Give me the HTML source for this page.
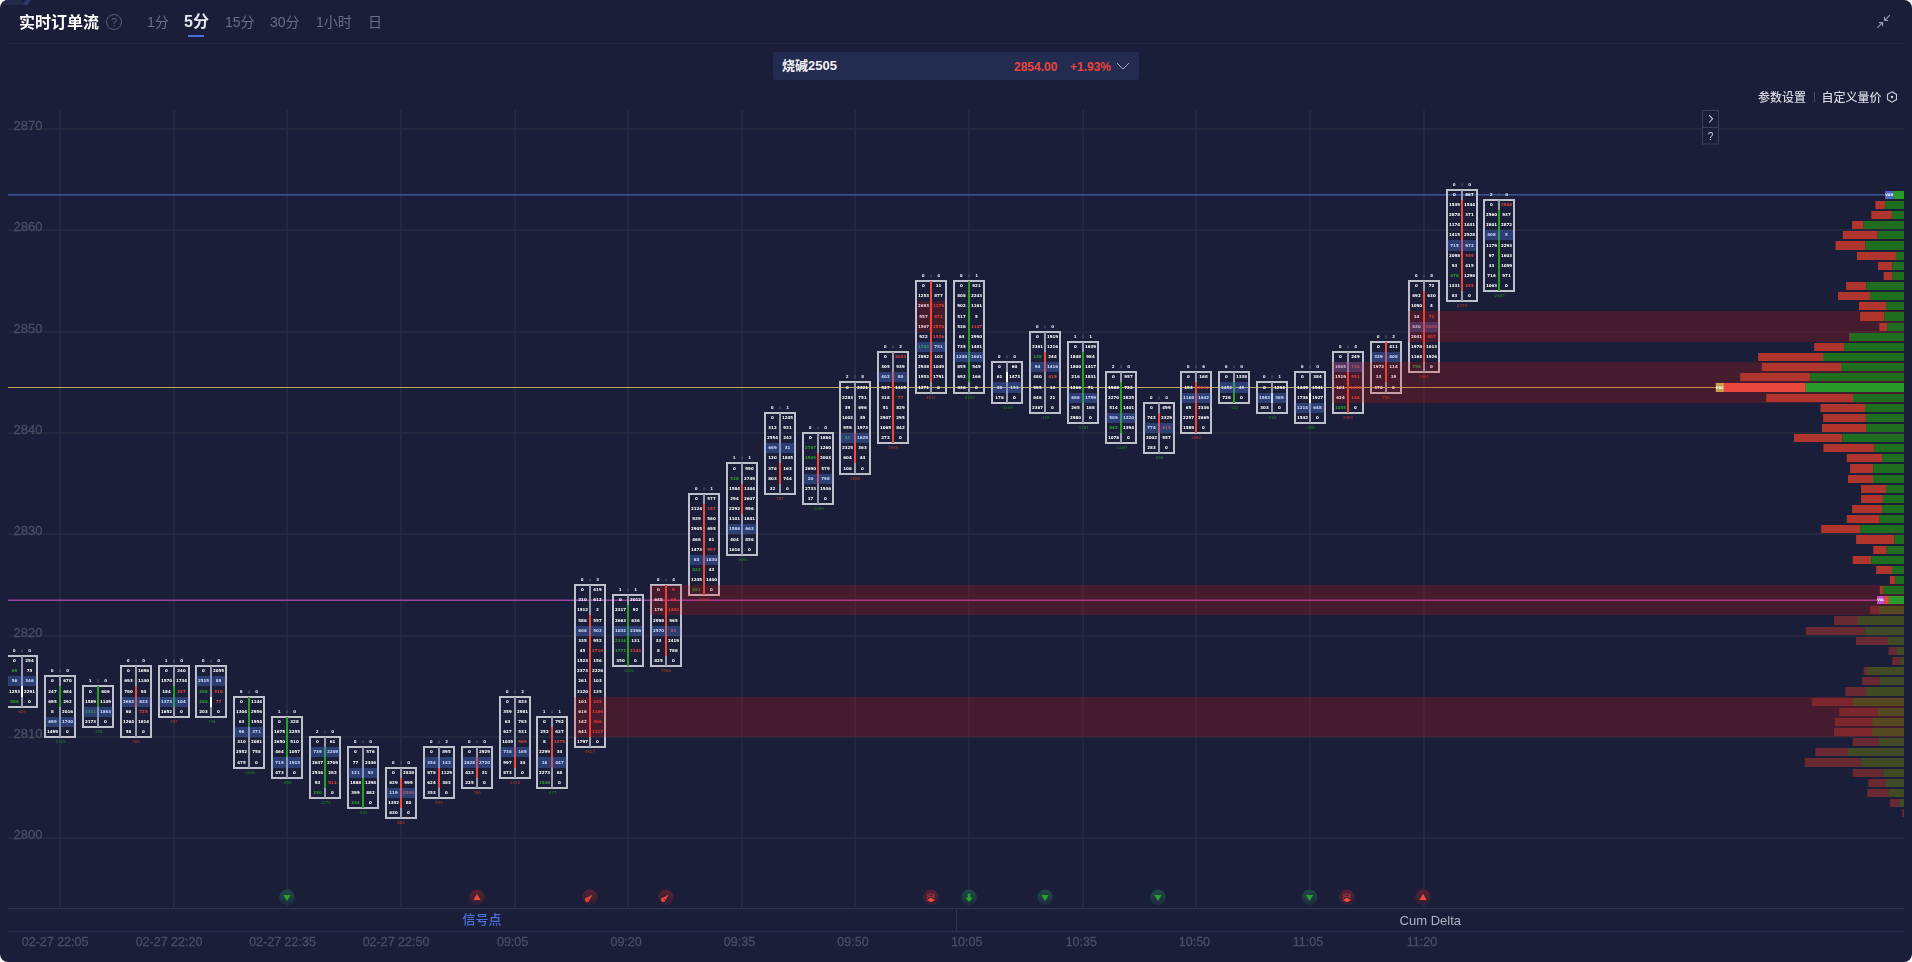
<!DOCTYPE html>
<html><head><meta charset="utf-8"><title>实时订单流</title>
<style>
html,body{margin:0;padding:0;background:#ffffff;}
#app{position:relative;width:1912px;height:962px;background:#1b1e38;border-radius:8px;overflow:hidden;font-family:"Liberation Sans","Noto Sans CJK SC",sans-serif;}
.abs{position:absolute;white-space:nowrap;}
.title{left:19px;top:11px;font-size:16px;font-weight:bold;color:#ffffff;line-height:24px;}
.help{left:106px;top:14px;width:14px;height:14px;border:1px solid #5c5f76;border-radius:50%;color:#5c5f76;font-size:11px;line-height:14px;text-align:center;}
.tab{top:12px;font-size:14px;color:#6b6e86;line-height:20px;}
.tab.on{font-size:16px;font-weight:bold;color:#e6e7ee;top:10px;line-height:24px;}
.uline{left:188px;top:35px;width:16px;height:2px;background:#4a70d8;}
.sep{left:8px;top:43px;width:1896px;height:1px;background:#262a45;}
.sym{left:773px;top:52px;width:366px;height:28px;background:#242b50;border-radius:2px;}
.symname{left:782px;top:56px;font-size:13px;font-weight:bold;color:#f2f2f6;line-height:20px;}
.px{top:57px;font-size:12px;font-weight:bold;color:#e8453c;line-height:20px;}
.cfg{top:90px;font-size:12px;font-weight:500;color:#d4d5de;line-height:17px;}
</style></head>
<body>
<div id="app">
<div class="abs" style="left:2px;top:0;width:20px;height:5px;background:#222a48;"></div>
<div class="abs" style="left:22px;top:0;width:9px;height:5px;background:#2a3a68;clip-path:polygon(40% 0,100% 0,60% 100%,0 100%);"></div>
<svg width="1912" height="962" viewBox="0 0 1912 962" style="position:absolute;left:0;top:0;will-change:transform">
<defs><clipPath id="cp"><rect x="8" y="100" width="1896" height="810"/></clipPath><linearGradient id="gg" x1="0" y1="0" x2="0" y2="1"><stop offset="0" stop-color="#1f4a48"/><stop offset="1" stop-color="#1c2a3c"/></linearGradient><linearGradient id="rg" x1="0" y1="0" x2="0" y2="1"><stop offset="0" stop-color="#5a2233"/><stop offset="1" stop-color="#2c1f36"/></linearGradient></defs>
<g clip-path="url(#cp)">
<rect x="8" y="128.50" width="1896" height="1" fill="#2f3246"/>
<rect x="8" y="229.50" width="1896" height="1" fill="#2f3246"/>
<rect x="8" y="331.50" width="1896" height="1" fill="#2f3246"/>
<rect x="8" y="432.50" width="1896" height="1" fill="#2f3246"/>
<rect x="8" y="533.50" width="1896" height="1" fill="#2f3246"/>
<rect x="8" y="635.50" width="1896" height="1" fill="#2f3246"/>
<rect x="8" y="736.50" width="1896" height="1" fill="#2f3246"/>
<rect x="8" y="837.50" width="1896" height="1" fill="#2f3246"/>
<rect x="59.50" y="110" width="1" height="797" fill="#2f3246"/>
<rect x="173.50" y="110" width="1" height="797" fill="#2f3246"/>
<rect x="286.50" y="110" width="1" height="797" fill="#2f3246"/>
<rect x="400.50" y="110" width="1" height="797" fill="#2f3246"/>
<rect x="514.50" y="110" width="1" height="797" fill="#2f3246"/>
<rect x="627.50" y="110" width="1" height="797" fill="#2f3246"/>
<rect x="741.50" y="110" width="1" height="797" fill="#2f3246"/>
<rect x="854.50" y="110" width="1" height="797" fill="#2f3246"/>
<rect x="968.50" y="110" width="1" height="797" fill="#2f3246"/>
<rect x="1082.50" y="110" width="1" height="797" fill="#2f3246"/>
<rect x="1195.50" y="110" width="1" height="797" fill="#2f3246"/>
<rect x="1309.50" y="110" width="1" height="797" fill="#2f3246"/>
<rect x="1423.50" y="110" width="1" height="797" fill="#2f3246"/>
<text x="13.5" y="130.30" font-family="Liberation Sans, sans-serif" font-size="13" fill="#4a4d64" stroke="#4a4d64" stroke-width="0.3">2870</text>
<text x="13.5" y="231.30" font-family="Liberation Sans, sans-serif" font-size="13" fill="#4a4d64" stroke="#4a4d64" stroke-width="0.3">2860</text>
<text x="13.5" y="333.30" font-family="Liberation Sans, sans-serif" font-size="13" fill="#4a4d64" stroke="#4a4d64" stroke-width="0.3">2850</text>
<text x="13.5" y="434.30" font-family="Liberation Sans, sans-serif" font-size="13" fill="#4a4d64" stroke="#4a4d64" stroke-width="0.3">2840</text>
<text x="13.5" y="535.30" font-family="Liberation Sans, sans-serif" font-size="13" fill="#4a4d64" stroke="#4a4d64" stroke-width="0.3">2830</text>
<text x="13.5" y="637.30" font-family="Liberation Sans, sans-serif" font-size="13" fill="#4a4d64" stroke="#4a4d64" stroke-width="0.3">2820</text>
<text x="13.5" y="738.30" font-family="Liberation Sans, sans-serif" font-size="13" fill="#4a4d64" stroke="#4a4d64" stroke-width="0.3">2810</text>
<text x="13.5" y="839.30" font-family="Liberation Sans, sans-serif" font-size="13" fill="#4a4d64" stroke="#4a4d64" stroke-width="0.3">2800</text>
<rect x="8" y="194.05" width="1877.4" height="1.5" fill="#3d5599"/>
<rect x="8" y="387" width="1708" height="1" fill="#c2a55a"/>
<rect x="8" y="599.5" width="1869" height="1.5" fill="#9a42a0"/>
<rect x="6.00" y="655.00" width="32" height="2" fill="#bec0cc"/>
<rect x="6.00" y="706.00" width="32" height="2" fill="#bec0cc"/>
<rect x="36.00" y="655.00" width="2" height="53.00" fill="#bec0cc"/>
<rect x="21.00" y="656.00" width="2" height="51.00" fill="#9a9cac"/>
<rect x="21.00" y="686.00" width="2" height="11.00" fill="#ffffff"/>
<text x="14.50" y="662.05" text-anchor="middle" font-family="DejaVu Sans, sans-serif" font-weight="bold" font-size="4.0" fill="#ffffff">0</text>
<text x="29.50" y="662.05" text-anchor="middle" font-family="DejaVu Sans, sans-serif" font-weight="bold" font-size="4.0" fill="#ffffff">254</text>
<text x="14.50" y="672.05" text-anchor="middle" font-family="DejaVu Sans, sans-serif" font-weight="bold" font-size="4.0" fill="#2ea02e">69</text>
<text x="29.50" y="672.05" text-anchor="middle" font-family="DejaVu Sans, sans-serif" font-weight="bold" font-size="4.0" fill="#ffffff">75</text>
<text x="14.50" y="682.05" text-anchor="middle" font-family="DejaVu Sans, sans-serif" font-weight="bold" font-size="4.0" fill="#ffffff">56</text>
<text x="29.50" y="682.05" text-anchor="middle" font-family="DejaVu Sans, sans-serif" font-weight="bold" font-size="4.0" fill="#ffffff">346</text>
<text x="14.50" y="692.55" text-anchor="middle" font-family="DejaVu Sans, sans-serif" font-weight="bold" font-size="4.0" fill="#ffffff">1253</text>
<text x="29.50" y="692.55" text-anchor="middle" font-family="DejaVu Sans, sans-serif" font-weight="bold" font-size="4.0" fill="#ffffff">2291</text>
<text x="14.50" y="703.05" text-anchor="middle" font-family="DejaVu Sans, sans-serif" font-weight="bold" font-size="4.0" fill="#2ea02e">506</text>
<text x="29.50" y="703.05" text-anchor="middle" font-family="DejaVu Sans, sans-serif" font-weight="bold" font-size="4.0" fill="#ffffff">0</text>
<rect x="7.50" y="676.00" width="29" height="10.00" fill="rgb(85,130,240)" fill-opacity="0.32"/>
<text x="14.20" y="652.10" text-anchor="middle" font-family="DejaVu Sans, sans-serif" font-weight="bold" font-size="4.0" fill="#e8e8ee">0</text>
<text x="22.00" y="652.10" text-anchor="middle" font-family="DejaVu Sans, sans-serif" font-weight="bold" font-size="4.0" fill="#5a5d75" stroke="#4e5168" stroke-width="0.5">:</text>
<text x="29.70" y="652.10" text-anchor="middle" font-family="DejaVu Sans, sans-serif" font-weight="bold" font-size="4.0" fill="#e8e8ee">0</text>
<text x="22.00" y="713.10" text-anchor="middle" font-family="DejaVu Sans, sans-serif" font-size="4.0" fill="#b8382f">629</text>
<rect x="44.00" y="675.00" width="32" height="2" fill="#bec0cc"/>
<rect x="44.00" y="736.00" width="32" height="2" fill="#bec0cc"/>
<rect x="44.00" y="675.00" width="2" height="63.00" fill="#bec0cc"/>
<rect x="74.00" y="675.00" width="2" height="63.00" fill="#bec0cc"/>
<rect x="59.00" y="676.00" width="2" height="61.00" fill="#9a9cac"/>
<rect x="59.00" y="686.00" width="2" height="21.00" fill="#28a028"/>
<text x="52.50" y="682.05" text-anchor="middle" font-family="DejaVu Sans, sans-serif" font-weight="bold" font-size="4.0" fill="#ffffff">0</text>
<text x="67.50" y="682.05" text-anchor="middle" font-family="DejaVu Sans, sans-serif" font-weight="bold" font-size="4.0" fill="#ffffff">670</text>
<text x="52.50" y="692.55" text-anchor="middle" font-family="DejaVu Sans, sans-serif" font-weight="bold" font-size="4.0" fill="#ffffff">247</text>
<text x="67.50" y="692.55" text-anchor="middle" font-family="DejaVu Sans, sans-serif" font-weight="bold" font-size="4.0" fill="#ffffff">684</text>
<text x="52.50" y="703.05" text-anchor="middle" font-family="DejaVu Sans, sans-serif" font-weight="bold" font-size="4.0" fill="#ffffff">695</text>
<text x="67.50" y="703.05" text-anchor="middle" font-family="DejaVu Sans, sans-serif" font-weight="bold" font-size="4.0" fill="#ffffff">292</text>
<text x="52.50" y="713.05" text-anchor="middle" font-family="DejaVu Sans, sans-serif" font-weight="bold" font-size="4.0" fill="#ffffff">8</text>
<text x="67.50" y="713.05" text-anchor="middle" font-family="DejaVu Sans, sans-serif" font-weight="bold" font-size="4.0" fill="#ffffff">2016</text>
<text x="52.50" y="723.05" text-anchor="middle" font-family="DejaVu Sans, sans-serif" font-weight="bold" font-size="4.0" fill="#ffffff">699</text>
<text x="67.50" y="723.05" text-anchor="middle" font-family="DejaVu Sans, sans-serif" font-weight="bold" font-size="4.0" fill="#ffffff">1740</text>
<text x="52.50" y="733.05" text-anchor="middle" font-family="DejaVu Sans, sans-serif" font-weight="bold" font-size="4.0" fill="#ffffff">1499</text>
<text x="67.50" y="733.05" text-anchor="middle" font-family="DejaVu Sans, sans-serif" font-weight="bold" font-size="4.0" fill="#ffffff">0</text>
<rect x="45.50" y="717.00" width="29" height="10.00" fill="rgb(85,130,240)" fill-opacity="0.32"/>
<text x="52.20" y="672.10" text-anchor="middle" font-family="DejaVu Sans, sans-serif" font-weight="bold" font-size="4.0" fill="#e8e8ee">0</text>
<text x="60.00" y="672.10" text-anchor="middle" font-family="DejaVu Sans, sans-serif" font-weight="bold" font-size="4.0" fill="#5a5d75" stroke="#4e5168" stroke-width="0.5">:</text>
<text x="67.70" y="672.10" text-anchor="middle" font-family="DejaVu Sans, sans-serif" font-weight="bold" font-size="4.0" fill="#e8e8ee">0</text>
<text x="60.00" y="743.10" text-anchor="middle" font-family="DejaVu Sans, sans-serif" font-size="4.0" fill="#22822a">-2129</text>
<rect x="82.00" y="685.00" width="32" height="2" fill="#bec0cc"/>
<rect x="82.00" y="726.00" width="32" height="2" fill="#bec0cc"/>
<rect x="82.00" y="685.00" width="2" height="43.00" fill="#bec0cc"/>
<rect x="112.00" y="685.00" width="2" height="43.00" fill="#bec0cc"/>
<rect x="97.00" y="686.00" width="2" height="41.00" fill="#9a9cac"/>
<rect x="97.00" y="686.00" width="2" height="21.00" fill="#28a028"/>
<text x="90.50" y="692.55" text-anchor="middle" font-family="DejaVu Sans, sans-serif" font-weight="bold" font-size="4.0" fill="#ffffff">0</text>
<text x="105.50" y="692.55" text-anchor="middle" font-family="DejaVu Sans, sans-serif" font-weight="bold" font-size="4.0" fill="#ffffff">606</text>
<text x="90.50" y="703.05" text-anchor="middle" font-family="DejaVu Sans, sans-serif" font-weight="bold" font-size="4.0" fill="#ffffff">1589</text>
<text x="105.50" y="703.05" text-anchor="middle" font-family="DejaVu Sans, sans-serif" font-weight="bold" font-size="4.0" fill="#ffffff">1149</text>
<text x="90.50" y="713.05" text-anchor="middle" font-family="DejaVu Sans, sans-serif" font-weight="bold" font-size="4.0" fill="#2ea02e">1311</text>
<text x="105.50" y="713.05" text-anchor="middle" font-family="DejaVu Sans, sans-serif" font-weight="bold" font-size="4.0" fill="#ffffff">1863</text>
<text x="90.50" y="723.05" text-anchor="middle" font-family="DejaVu Sans, sans-serif" font-weight="bold" font-size="4.0" fill="#ffffff">2173</text>
<text x="105.50" y="723.05" text-anchor="middle" font-family="DejaVu Sans, sans-serif" font-weight="bold" font-size="4.0" fill="#ffffff">0</text>
<rect x="83.50" y="707.00" width="29" height="10.00" fill="rgb(85,130,240)" fill-opacity="0.32"/>
<text x="90.20" y="682.10" text-anchor="middle" font-family="DejaVu Sans, sans-serif" font-weight="bold" font-size="4.0" fill="#e8e8ee">1</text>
<text x="98.00" y="682.10" text-anchor="middle" font-family="DejaVu Sans, sans-serif" font-weight="bold" font-size="4.0" fill="#5a5d75" stroke="#4e5168" stroke-width="0.5">:</text>
<text x="105.70" y="682.10" text-anchor="middle" font-family="DejaVu Sans, sans-serif" font-weight="bold" font-size="4.0" fill="#e8e8ee">0</text>
<text x="98.00" y="733.10" text-anchor="middle" font-family="DejaVu Sans, sans-serif" font-size="4.0" fill="#22822a">-188</text>
<rect x="120.00" y="665.00" width="32" height="2" fill="#bec0cc"/>
<rect x="120.00" y="736.00" width="32" height="2" fill="#bec0cc"/>
<rect x="120.00" y="665.00" width="2" height="73.00" fill="#bec0cc"/>
<rect x="150.00" y="665.00" width="2" height="73.00" fill="#bec0cc"/>
<rect x="135.00" y="666.00" width="2" height="71.00" fill="#9a9cac"/>
<rect x="135.00" y="686.00" width="2" height="21.00" fill="#ee4a3a"/>
<text x="128.50" y="672.05" text-anchor="middle" font-family="DejaVu Sans, sans-serif" font-weight="bold" font-size="4.0" fill="#ffffff">0</text>
<text x="143.50" y="672.05" text-anchor="middle" font-family="DejaVu Sans, sans-serif" font-weight="bold" font-size="4.0" fill="#ffffff">1696</text>
<text x="128.50" y="682.05" text-anchor="middle" font-family="DejaVu Sans, sans-serif" font-weight="bold" font-size="4.0" fill="#ffffff">693</text>
<text x="143.50" y="682.05" text-anchor="middle" font-family="DejaVu Sans, sans-serif" font-weight="bold" font-size="4.0" fill="#ffffff">1140</text>
<text x="128.50" y="692.55" text-anchor="middle" font-family="DejaVu Sans, sans-serif" font-weight="bold" font-size="4.0" fill="#ffffff">780</text>
<text x="143.50" y="692.55" text-anchor="middle" font-family="DejaVu Sans, sans-serif" font-weight="bold" font-size="4.0" fill="#ffffff">94</text>
<text x="128.50" y="703.05" text-anchor="middle" font-family="DejaVu Sans, sans-serif" font-weight="bold" font-size="4.0" fill="#ffffff">2683</text>
<text x="143.50" y="703.05" text-anchor="middle" font-family="DejaVu Sans, sans-serif" font-weight="bold" font-size="4.0" fill="#ffffff">833</text>
<text x="128.50" y="713.05" text-anchor="middle" font-family="DejaVu Sans, sans-serif" font-weight="bold" font-size="4.0" fill="#ffffff">60</text>
<text x="143.50" y="713.05" text-anchor="middle" font-family="DejaVu Sans, sans-serif" font-weight="bold" font-size="4.0" fill="#e0453a">725</text>
<text x="128.50" y="723.05" text-anchor="middle" font-family="DejaVu Sans, sans-serif" font-weight="bold" font-size="4.0" fill="#ffffff">1264</text>
<text x="143.50" y="723.05" text-anchor="middle" font-family="DejaVu Sans, sans-serif" font-weight="bold" font-size="4.0" fill="#ffffff">1814</text>
<text x="128.50" y="733.05" text-anchor="middle" font-family="DejaVu Sans, sans-serif" font-weight="bold" font-size="4.0" fill="#ffffff">58</text>
<text x="143.50" y="733.05" text-anchor="middle" font-family="DejaVu Sans, sans-serif" font-weight="bold" font-size="4.0" fill="#ffffff">0</text>
<rect x="121.50" y="697.00" width="29" height="10.00" fill="rgb(85,130,240)" fill-opacity="0.32"/>
<text x="128.20" y="662.10" text-anchor="middle" font-family="DejaVu Sans, sans-serif" font-weight="bold" font-size="4.0" fill="#e8e8ee">0</text>
<text x="136.00" y="662.10" text-anchor="middle" font-family="DejaVu Sans, sans-serif" font-weight="bold" font-size="4.0" fill="#5a5d75" stroke="#4e5168" stroke-width="0.5">:</text>
<text x="143.70" y="662.10" text-anchor="middle" font-family="DejaVu Sans, sans-serif" font-weight="bold" font-size="4.0" fill="#e8e8ee">0</text>
<text x="136.00" y="743.10" text-anchor="middle" font-family="DejaVu Sans, sans-serif" font-size="4.0" fill="#b8382f">789</text>
<rect x="158.00" y="665.00" width="32" height="2" fill="#bec0cc"/>
<rect x="158.00" y="716.00" width="32" height="2" fill="#bec0cc"/>
<rect x="158.00" y="665.00" width="2" height="53.00" fill="#bec0cc"/>
<rect x="188.00" y="665.00" width="2" height="53.00" fill="#bec0cc"/>
<rect x="173.00" y="666.00" width="2" height="51.00" fill="#9a9cac"/>
<rect x="173.00" y="686.00" width="2" height="21.00" fill="#28a028"/>
<text x="166.50" y="672.05" text-anchor="middle" font-family="DejaVu Sans, sans-serif" font-weight="bold" font-size="4.0" fill="#ffffff">0</text>
<text x="181.50" y="672.05" text-anchor="middle" font-family="DejaVu Sans, sans-serif" font-weight="bold" font-size="4.0" fill="#ffffff">240</text>
<text x="166.50" y="682.05" text-anchor="middle" font-family="DejaVu Sans, sans-serif" font-weight="bold" font-size="4.0" fill="#ffffff">1570</text>
<text x="181.50" y="682.05" text-anchor="middle" font-family="DejaVu Sans, sans-serif" font-weight="bold" font-size="4.0" fill="#ffffff">1734</text>
<text x="166.50" y="692.55" text-anchor="middle" font-family="DejaVu Sans, sans-serif" font-weight="bold" font-size="4.0" fill="#ffffff">184</text>
<text x="181.50" y="692.55" text-anchor="middle" font-family="DejaVu Sans, sans-serif" font-weight="bold" font-size="4.0" fill="#e0453a">337</text>
<text x="166.50" y="703.05" text-anchor="middle" font-family="DejaVu Sans, sans-serif" font-weight="bold" font-size="4.0" fill="#ffffff">1373</text>
<text x="181.50" y="703.05" text-anchor="middle" font-family="DejaVu Sans, sans-serif" font-weight="bold" font-size="4.0" fill="#ffffff">104</text>
<text x="166.50" y="713.05" text-anchor="middle" font-family="DejaVu Sans, sans-serif" font-weight="bold" font-size="4.0" fill="#ffffff">1652</text>
<text x="181.50" y="713.05" text-anchor="middle" font-family="DejaVu Sans, sans-serif" font-weight="bold" font-size="4.0" fill="#ffffff">0</text>
<rect x="159.50" y="697.00" width="29" height="10.00" fill="rgb(85,130,240)" fill-opacity="0.32"/>
<text x="166.20" y="662.10" text-anchor="middle" font-family="DejaVu Sans, sans-serif" font-weight="bold" font-size="4.0" fill="#e8e8ee">1</text>
<text x="174.00" y="662.10" text-anchor="middle" font-family="DejaVu Sans, sans-serif" font-weight="bold" font-size="4.0" fill="#5a5d75" stroke="#4e5168" stroke-width="0.5">:</text>
<text x="181.70" y="662.10" text-anchor="middle" font-family="DejaVu Sans, sans-serif" font-weight="bold" font-size="4.0" fill="#e8e8ee">0</text>
<text x="174.00" y="723.10" text-anchor="middle" font-family="DejaVu Sans, sans-serif" font-size="4.0" fill="#b8382f">497</text>
<rect x="195.00" y="665.00" width="32" height="2" fill="#bec0cc"/>
<rect x="195.00" y="716.00" width="32" height="2" fill="#bec0cc"/>
<rect x="195.00" y="665.00" width="2" height="53.00" fill="#bec0cc"/>
<rect x="225.00" y="665.00" width="2" height="53.00" fill="#bec0cc"/>
<rect x="210.00" y="666.00" width="2" height="51.00" fill="#9a9cac"/>
<rect x="210.00" y="697.00" width="2" height="10.00" fill="#ffffff"/>
<text x="203.50" y="672.05" text-anchor="middle" font-family="DejaVu Sans, sans-serif" font-weight="bold" font-size="4.0" fill="#ffffff">0</text>
<text x="218.50" y="672.05" text-anchor="middle" font-family="DejaVu Sans, sans-serif" font-weight="bold" font-size="4.0" fill="#ffffff">2055</text>
<text x="203.50" y="682.05" text-anchor="middle" font-family="DejaVu Sans, sans-serif" font-weight="bold" font-size="4.0" fill="#ffffff">2515</text>
<text x="218.50" y="682.05" text-anchor="middle" font-family="DejaVu Sans, sans-serif" font-weight="bold" font-size="4.0" fill="#ffffff">88</text>
<text x="203.50" y="692.55" text-anchor="middle" font-family="DejaVu Sans, sans-serif" font-weight="bold" font-size="4.0" fill="#2ea02e">206</text>
<text x="218.50" y="692.55" text-anchor="middle" font-family="DejaVu Sans, sans-serif" font-weight="bold" font-size="4.0" fill="#e0453a">510</text>
<text x="203.50" y="703.05" text-anchor="middle" font-family="DejaVu Sans, sans-serif" font-weight="bold" font-size="4.0" fill="#2ea02e">266</text>
<text x="218.50" y="703.05" text-anchor="middle" font-family="DejaVu Sans, sans-serif" font-weight="bold" font-size="4.0" fill="#e0453a">77</text>
<text x="203.50" y="713.05" text-anchor="middle" font-family="DejaVu Sans, sans-serif" font-weight="bold" font-size="4.0" fill="#ffffff">203</text>
<text x="218.50" y="713.05" text-anchor="middle" font-family="DejaVu Sans, sans-serif" font-weight="bold" font-size="4.0" fill="#ffffff">0</text>
<rect x="196.50" y="676.00" width="29" height="10.00" fill="rgb(85,130,240)" fill-opacity="0.32"/>
<text x="203.20" y="662.10" text-anchor="middle" font-family="DejaVu Sans, sans-serif" font-weight="bold" font-size="4.0" fill="#e8e8ee">0</text>
<text x="211.00" y="662.10" text-anchor="middle" font-family="DejaVu Sans, sans-serif" font-weight="bold" font-size="4.0" fill="#5a5d75" stroke="#4e5168" stroke-width="0.5">:</text>
<text x="218.70" y="662.10" text-anchor="middle" font-family="DejaVu Sans, sans-serif" font-weight="bold" font-size="4.0" fill="#e8e8ee">0</text>
<text x="211.00" y="723.10" text-anchor="middle" font-family="DejaVu Sans, sans-serif" font-size="4.0" fill="#22822a">-196</text>
<rect x="233.00" y="696.00" width="32" height="2" fill="#bec0cc"/>
<rect x="233.00" y="767.00" width="32" height="2" fill="#bec0cc"/>
<rect x="233.00" y="696.00" width="2" height="73.00" fill="#bec0cc"/>
<rect x="263.00" y="696.00" width="2" height="73.00" fill="#bec0cc"/>
<rect x="248.00" y="697.00" width="2" height="71.00" fill="#9a9cac"/>
<rect x="248.00" y="697.00" width="2" height="30.00" fill="#28a028"/>
<text x="241.50" y="703.05" text-anchor="middle" font-family="DejaVu Sans, sans-serif" font-weight="bold" font-size="4.0" fill="#ffffff">0</text>
<text x="256.50" y="703.05" text-anchor="middle" font-family="DejaVu Sans, sans-serif" font-weight="bold" font-size="4.0" fill="#ffffff">1144</text>
<text x="241.50" y="713.05" text-anchor="middle" font-family="DejaVu Sans, sans-serif" font-weight="bold" font-size="4.0" fill="#ffffff">1304</text>
<text x="256.50" y="713.05" text-anchor="middle" font-family="DejaVu Sans, sans-serif" font-weight="bold" font-size="4.0" fill="#ffffff">2956</text>
<text x="241.50" y="723.05" text-anchor="middle" font-family="DejaVu Sans, sans-serif" font-weight="bold" font-size="4.0" fill="#ffffff">63</text>
<text x="256.50" y="723.05" text-anchor="middle" font-family="DejaVu Sans, sans-serif" font-weight="bold" font-size="4.0" fill="#ffffff">1954</text>
<text x="241.50" y="733.05" text-anchor="middle" font-family="DejaVu Sans, sans-serif" font-weight="bold" font-size="4.0" fill="#ffffff">96</text>
<text x="256.50" y="733.05" text-anchor="middle" font-family="DejaVu Sans, sans-serif" font-weight="bold" font-size="4.0" fill="#ffffff">371</text>
<text x="241.50" y="743.05" text-anchor="middle" font-family="DejaVu Sans, sans-serif" font-weight="bold" font-size="4.0" fill="#ffffff">310</text>
<text x="256.50" y="743.05" text-anchor="middle" font-family="DejaVu Sans, sans-serif" font-weight="bold" font-size="4.0" fill="#ffffff">2081</text>
<text x="241.50" y="753.05" text-anchor="middle" font-family="DejaVu Sans, sans-serif" font-weight="bold" font-size="4.0" fill="#ffffff">2552</text>
<text x="256.50" y="753.05" text-anchor="middle" font-family="DejaVu Sans, sans-serif" font-weight="bold" font-size="4.0" fill="#ffffff">758</text>
<text x="241.50" y="763.55" text-anchor="middle" font-family="DejaVu Sans, sans-serif" font-weight="bold" font-size="4.0" fill="#ffffff">475</text>
<text x="256.50" y="763.55" text-anchor="middle" font-family="DejaVu Sans, sans-serif" font-weight="bold" font-size="4.0" fill="#ffffff">0</text>
<rect x="234.50" y="727.00" width="29" height="10.00" fill="rgb(85,130,240)" fill-opacity="0.32"/>
<text x="241.20" y="693.10" text-anchor="middle" font-family="DejaVu Sans, sans-serif" font-weight="bold" font-size="4.0" fill="#e8e8ee">6</text>
<text x="249.00" y="693.10" text-anchor="middle" font-family="DejaVu Sans, sans-serif" font-weight="bold" font-size="4.0" fill="#5a5d75" stroke="#4e5168" stroke-width="0.5">:</text>
<text x="256.70" y="693.10" text-anchor="middle" font-family="DejaVu Sans, sans-serif" font-weight="bold" font-size="4.0" fill="#e8e8ee">0</text>
<text x="249.00" y="774.10" text-anchor="middle" font-family="DejaVu Sans, sans-serif" font-size="4.0" fill="#22822a">-1516</text>
<rect x="271.00" y="716.00" width="32" height="2" fill="#bec0cc"/>
<rect x="271.00" y="777.00" width="32" height="2" fill="#bec0cc"/>
<rect x="271.00" y="716.00" width="2" height="63.00" fill="#bec0cc"/>
<rect x="301.00" y="716.00" width="2" height="63.00" fill="#bec0cc"/>
<rect x="286.00" y="717.00" width="2" height="61.00" fill="#9a9cac"/>
<rect x="286.00" y="717.00" width="2" height="40.00" fill="#28a028"/>
<text x="279.50" y="723.05" text-anchor="middle" font-family="DejaVu Sans, sans-serif" font-weight="bold" font-size="4.0" fill="#ffffff">0</text>
<text x="294.50" y="723.05" text-anchor="middle" font-family="DejaVu Sans, sans-serif" font-weight="bold" font-size="4.0" fill="#ffffff">328</text>
<text x="279.50" y="733.05" text-anchor="middle" font-family="DejaVu Sans, sans-serif" font-weight="bold" font-size="4.0" fill="#ffffff">1675</text>
<text x="294.50" y="733.05" text-anchor="middle" font-family="DejaVu Sans, sans-serif" font-weight="bold" font-size="4.0" fill="#ffffff">2255</text>
<text x="279.50" y="743.05" text-anchor="middle" font-family="DejaVu Sans, sans-serif" font-weight="bold" font-size="4.0" fill="#ffffff">2650</text>
<text x="294.50" y="743.05" text-anchor="middle" font-family="DejaVu Sans, sans-serif" font-weight="bold" font-size="4.0" fill="#ffffff">510</text>
<text x="279.50" y="753.05" text-anchor="middle" font-family="DejaVu Sans, sans-serif" font-weight="bold" font-size="4.0" fill="#ffffff">464</text>
<text x="294.50" y="753.05" text-anchor="middle" font-family="DejaVu Sans, sans-serif" font-weight="bold" font-size="4.0" fill="#ffffff">1057</text>
<text x="279.50" y="763.55" text-anchor="middle" font-family="DejaVu Sans, sans-serif" font-weight="bold" font-size="4.0" fill="#ffffff">719</text>
<text x="294.50" y="763.55" text-anchor="middle" font-family="DejaVu Sans, sans-serif" font-weight="bold" font-size="4.0" fill="#ffffff">1915</text>
<text x="279.50" y="774.05" text-anchor="middle" font-family="DejaVu Sans, sans-serif" font-weight="bold" font-size="4.0" fill="#ffffff">473</text>
<text x="294.50" y="774.05" text-anchor="middle" font-family="DejaVu Sans, sans-serif" font-weight="bold" font-size="4.0" fill="#ffffff">0</text>
<rect x="272.50" y="757.00" width="29" height="11.00" fill="rgb(85,130,240)" fill-opacity="0.32"/>
<text x="279.20" y="713.10" text-anchor="middle" font-family="DejaVu Sans, sans-serif" font-weight="bold" font-size="4.0" fill="#e8e8ee">1</text>
<text x="287.00" y="713.10" text-anchor="middle" font-family="DejaVu Sans, sans-serif" font-weight="bold" font-size="4.0" fill="#5a5d75" stroke="#4e5168" stroke-width="0.5">:</text>
<text x="294.70" y="713.10" text-anchor="middle" font-family="DejaVu Sans, sans-serif" font-weight="bold" font-size="4.0" fill="#e8e8ee">0</text>
<text x="287.00" y="784.10" text-anchor="middle" font-family="DejaVu Sans, sans-serif" font-size="4.0" fill="#22822a">-696</text>
<rect x="309.00" y="736.00" width="32" height="2" fill="#bec0cc"/>
<rect x="309.00" y="797.00" width="32" height="2" fill="#bec0cc"/>
<rect x="309.00" y="736.00" width="2" height="63.00" fill="#bec0cc"/>
<rect x="339.00" y="736.00" width="2" height="63.00" fill="#bec0cc"/>
<rect x="324.00" y="737.00" width="2" height="61.00" fill="#9a9cac"/>
<rect x="324.00" y="747.00" width="2" height="41.00" fill="#28a028"/>
<text x="317.50" y="743.05" text-anchor="middle" font-family="DejaVu Sans, sans-serif" font-weight="bold" font-size="4.0" fill="#ffffff">0</text>
<text x="332.50" y="743.05" text-anchor="middle" font-family="DejaVu Sans, sans-serif" font-weight="bold" font-size="4.0" fill="#ffffff">61</text>
<text x="317.50" y="753.05" text-anchor="middle" font-family="DejaVu Sans, sans-serif" font-weight="bold" font-size="4.0" fill="#ffffff">739</text>
<text x="332.50" y="753.05" text-anchor="middle" font-family="DejaVu Sans, sans-serif" font-weight="bold" font-size="4.0" fill="#ffffff">2249</text>
<text x="317.50" y="763.55" text-anchor="middle" font-family="DejaVu Sans, sans-serif" font-weight="bold" font-size="4.0" fill="#ffffff">2637</text>
<text x="332.50" y="763.55" text-anchor="middle" font-family="DejaVu Sans, sans-serif" font-weight="bold" font-size="4.0" fill="#ffffff">2709</text>
<text x="317.50" y="774.05" text-anchor="middle" font-family="DejaVu Sans, sans-serif" font-weight="bold" font-size="4.0" fill="#ffffff">2536</text>
<text x="332.50" y="774.05" text-anchor="middle" font-family="DejaVu Sans, sans-serif" font-weight="bold" font-size="4.0" fill="#ffffff">282</text>
<text x="317.50" y="784.05" text-anchor="middle" font-family="DejaVu Sans, sans-serif" font-weight="bold" font-size="4.0" fill="#ffffff">93</text>
<text x="332.50" y="784.05" text-anchor="middle" font-family="DejaVu Sans, sans-serif" font-weight="bold" font-size="4.0" fill="#e0453a">511</text>
<text x="317.50" y="794.05" text-anchor="middle" font-family="DejaVu Sans, sans-serif" font-weight="bold" font-size="4.0" fill="#2ea02e">230</text>
<text x="332.50" y="794.05" text-anchor="middle" font-family="DejaVu Sans, sans-serif" font-weight="bold" font-size="4.0" fill="#ffffff">0</text>
<rect x="310.50" y="747.00" width="29" height="10.00" fill="rgb(85,130,240)" fill-opacity="0.32"/>
<text x="317.20" y="733.10" text-anchor="middle" font-family="DejaVu Sans, sans-serif" font-weight="bold" font-size="4.0" fill="#e8e8ee">2</text>
<text x="325.00" y="733.10" text-anchor="middle" font-family="DejaVu Sans, sans-serif" font-weight="bold" font-size="4.0" fill="#5a5d75" stroke="#4e5168" stroke-width="0.5">:</text>
<text x="332.70" y="733.10" text-anchor="middle" font-family="DejaVu Sans, sans-serif" font-weight="bold" font-size="4.0" fill="#e8e8ee">0</text>
<text x="325.00" y="804.10" text-anchor="middle" font-family="DejaVu Sans, sans-serif" font-size="4.0" fill="#22822a">-1276</text>
<rect x="347.00" y="746.00" width="32" height="2" fill="#bec0cc"/>
<rect x="347.00" y="807.00" width="32" height="2" fill="#bec0cc"/>
<rect x="347.00" y="746.00" width="2" height="63.00" fill="#bec0cc"/>
<rect x="377.00" y="746.00" width="2" height="63.00" fill="#bec0cc"/>
<rect x="362.00" y="747.00" width="2" height="61.00" fill="#9a9cac"/>
<rect x="362.00" y="778.00" width="2" height="30.00" fill="#28a028"/>
<text x="355.50" y="753.05" text-anchor="middle" font-family="DejaVu Sans, sans-serif" font-weight="bold" font-size="4.0" fill="#ffffff">0</text>
<text x="370.50" y="753.05" text-anchor="middle" font-family="DejaVu Sans, sans-serif" font-weight="bold" font-size="4.0" fill="#ffffff">576</text>
<text x="355.50" y="763.55" text-anchor="middle" font-family="DejaVu Sans, sans-serif" font-weight="bold" font-size="4.0" fill="#ffffff">77</text>
<text x="370.50" y="763.55" text-anchor="middle" font-family="DejaVu Sans, sans-serif" font-weight="bold" font-size="4.0" fill="#ffffff">2346</text>
<text x="355.50" y="774.05" text-anchor="middle" font-family="DejaVu Sans, sans-serif" font-weight="bold" font-size="4.0" fill="#ffffff">121</text>
<text x="370.50" y="774.05" text-anchor="middle" font-family="DejaVu Sans, sans-serif" font-weight="bold" font-size="4.0" fill="#ffffff">93</text>
<text x="355.50" y="784.05" text-anchor="middle" font-family="DejaVu Sans, sans-serif" font-weight="bold" font-size="4.0" fill="#ffffff">1888</text>
<text x="370.50" y="784.05" text-anchor="middle" font-family="DejaVu Sans, sans-serif" font-weight="bold" font-size="4.0" fill="#ffffff">1398</text>
<text x="355.50" y="794.05" text-anchor="middle" font-family="DejaVu Sans, sans-serif" font-weight="bold" font-size="4.0" fill="#ffffff">399</text>
<text x="370.50" y="794.05" text-anchor="middle" font-family="DejaVu Sans, sans-serif" font-weight="bold" font-size="4.0" fill="#ffffff">882</text>
<text x="355.50" y="804.05" text-anchor="middle" font-family="DejaVu Sans, sans-serif" font-weight="bold" font-size="4.0" fill="#2ea02e">234</text>
<text x="370.50" y="804.05" text-anchor="middle" font-family="DejaVu Sans, sans-serif" font-weight="bold" font-size="4.0" fill="#ffffff">0</text>
<rect x="348.50" y="768.00" width="29" height="10.00" fill="rgb(85,130,240)" fill-opacity="0.32"/>
<text x="355.20" y="743.10" text-anchor="middle" font-family="DejaVu Sans, sans-serif" font-weight="bold" font-size="4.0" fill="#e8e8ee">0</text>
<text x="363.00" y="743.10" text-anchor="middle" font-family="DejaVu Sans, sans-serif" font-weight="bold" font-size="4.0" fill="#5a5d75" stroke="#4e5168" stroke-width="0.5">:</text>
<text x="370.70" y="743.10" text-anchor="middle" font-family="DejaVu Sans, sans-serif" font-weight="bold" font-size="4.0" fill="#e8e8ee">0</text>
<text x="363.00" y="814.10" text-anchor="middle" font-family="DejaVu Sans, sans-serif" font-size="4.0" fill="#22822a">-922</text>
<rect x="385.00" y="767.00" width="32" height="2" fill="#bec0cc"/>
<rect x="385.00" y="817.00" width="32" height="2" fill="#bec0cc"/>
<rect x="385.00" y="767.00" width="2" height="52.00" fill="#bec0cc"/>
<rect x="415.00" y="767.00" width="2" height="52.00" fill="#bec0cc"/>
<rect x="400.00" y="768.00" width="2" height="50.00" fill="#9a9cac"/>
<rect x="400.00" y="778.00" width="2" height="30.00" fill="#ee4a3a"/>
<text x="393.50" y="774.05" text-anchor="middle" font-family="DejaVu Sans, sans-serif" font-weight="bold" font-size="4.0" fill="#ffffff">0</text>
<text x="408.50" y="774.05" text-anchor="middle" font-family="DejaVu Sans, sans-serif" font-weight="bold" font-size="4.0" fill="#ffffff">2838</text>
<text x="393.50" y="784.05" text-anchor="middle" font-family="DejaVu Sans, sans-serif" font-weight="bold" font-size="4.0" fill="#ffffff">629</text>
<text x="408.50" y="784.05" text-anchor="middle" font-family="DejaVu Sans, sans-serif" font-weight="bold" font-size="4.0" fill="#ffffff">999</text>
<text x="393.50" y="794.05" text-anchor="middle" font-family="DejaVu Sans, sans-serif" font-weight="bold" font-size="4.0" fill="#ffffff">119</text>
<text x="408.50" y="794.05" text-anchor="middle" font-family="DejaVu Sans, sans-serif" font-weight="bold" font-size="4.0" fill="#e0453a">2590</text>
<text x="393.50" y="804.05" text-anchor="middle" font-family="DejaVu Sans, sans-serif" font-weight="bold" font-size="4.0" fill="#ffffff">1352</text>
<text x="408.50" y="804.05" text-anchor="middle" font-family="DejaVu Sans, sans-serif" font-weight="bold" font-size="4.0" fill="#ffffff">80</text>
<text x="393.50" y="814.05" text-anchor="middle" font-family="DejaVu Sans, sans-serif" font-weight="bold" font-size="4.0" fill="#ffffff">630</text>
<text x="408.50" y="814.05" text-anchor="middle" font-family="DejaVu Sans, sans-serif" font-weight="bold" font-size="4.0" fill="#ffffff">0</text>
<rect x="386.50" y="788.00" width="29" height="10.00" fill="rgb(85,130,240)" fill-opacity="0.32"/>
<text x="393.20" y="764.10" text-anchor="middle" font-family="DejaVu Sans, sans-serif" font-weight="bold" font-size="4.0" fill="#e8e8ee">0</text>
<text x="401.00" y="764.10" text-anchor="middle" font-family="DejaVu Sans, sans-serif" font-weight="bold" font-size="4.0" fill="#5a5d75" stroke="#4e5168" stroke-width="0.5">:</text>
<text x="408.70" y="764.10" text-anchor="middle" font-family="DejaVu Sans, sans-serif" font-weight="bold" font-size="4.0" fill="#e8e8ee">0</text>
<text x="401.00" y="824.10" text-anchor="middle" font-family="DejaVu Sans, sans-serif" font-size="4.0" fill="#b8382f">886</text>
<rect x="423.00" y="746.00" width="32" height="2" fill="#bec0cc"/>
<rect x="423.00" y="797.00" width="32" height="2" fill="#bec0cc"/>
<rect x="423.00" y="746.00" width="2" height="53.00" fill="#bec0cc"/>
<rect x="453.00" y="746.00" width="2" height="53.00" fill="#bec0cc"/>
<rect x="438.00" y="747.00" width="2" height="51.00" fill="#9a9cac"/>
<rect x="438.00" y="768.00" width="2" height="20.00" fill="#ee4a3a"/>
<text x="431.50" y="753.05" text-anchor="middle" font-family="DejaVu Sans, sans-serif" font-weight="bold" font-size="4.0" fill="#ffffff">0</text>
<text x="446.50" y="753.05" text-anchor="middle" font-family="DejaVu Sans, sans-serif" font-weight="bold" font-size="4.0" fill="#ffffff">895</text>
<text x="431.50" y="763.55" text-anchor="middle" font-family="DejaVu Sans, sans-serif" font-weight="bold" font-size="4.0" fill="#ffffff">354</text>
<text x="446.50" y="763.55" text-anchor="middle" font-family="DejaVu Sans, sans-serif" font-weight="bold" font-size="4.0" fill="#ffffff">143</text>
<text x="431.50" y="774.05" text-anchor="middle" font-family="DejaVu Sans, sans-serif" font-weight="bold" font-size="4.0" fill="#ffffff">878</text>
<text x="446.50" y="774.05" text-anchor="middle" font-family="DejaVu Sans, sans-serif" font-weight="bold" font-size="4.0" fill="#ffffff">1129</text>
<text x="431.50" y="784.05" text-anchor="middle" font-family="DejaVu Sans, sans-serif" font-weight="bold" font-size="4.0" fill="#ffffff">624</text>
<text x="446.50" y="784.05" text-anchor="middle" font-family="DejaVu Sans, sans-serif" font-weight="bold" font-size="4.0" fill="#ffffff">383</text>
<text x="431.50" y="794.05" text-anchor="middle" font-family="DejaVu Sans, sans-serif" font-weight="bold" font-size="4.0" fill="#ffffff">353</text>
<text x="446.50" y="794.05" text-anchor="middle" font-family="DejaVu Sans, sans-serif" font-weight="bold" font-size="4.0" fill="#ffffff">0</text>
<rect x="424.50" y="757.00" width="29" height="11.00" fill="rgb(85,130,240)" fill-opacity="0.32"/>
<text x="431.20" y="743.10" text-anchor="middle" font-family="DejaVu Sans, sans-serif" font-weight="bold" font-size="4.0" fill="#e8e8ee">0</text>
<text x="439.00" y="743.10" text-anchor="middle" font-family="DejaVu Sans, sans-serif" font-weight="bold" font-size="4.0" fill="#5a5d75" stroke="#4e5168" stroke-width="0.5">:</text>
<text x="446.70" y="743.10" text-anchor="middle" font-family="DejaVu Sans, sans-serif" font-weight="bold" font-size="4.0" fill="#e8e8ee">2</text>
<text x="439.00" y="804.10" text-anchor="middle" font-family="DejaVu Sans, sans-serif" font-size="4.0" fill="#b8382f">549</text>
<rect x="461.00" y="746.00" width="32" height="2" fill="#bec0cc"/>
<rect x="461.00" y="787.00" width="32" height="2" fill="#bec0cc"/>
<rect x="461.00" y="746.00" width="2" height="43.00" fill="#bec0cc"/>
<rect x="491.00" y="746.00" width="2" height="43.00" fill="#bec0cc"/>
<rect x="476.00" y="747.00" width="2" height="41.00" fill="#9a9cac"/>
<rect x="476.00" y="757.00" width="2" height="21.00" fill="#ee4a3a"/>
<text x="469.50" y="753.05" text-anchor="middle" font-family="DejaVu Sans, sans-serif" font-weight="bold" font-size="4.0" fill="#ffffff">0</text>
<text x="484.50" y="753.05" text-anchor="middle" font-family="DejaVu Sans, sans-serif" font-weight="bold" font-size="4.0" fill="#ffffff">2929</text>
<text x="469.50" y="763.55" text-anchor="middle" font-family="DejaVu Sans, sans-serif" font-weight="bold" font-size="4.0" fill="#ffffff">2828</text>
<text x="484.50" y="763.55" text-anchor="middle" font-family="DejaVu Sans, sans-serif" font-weight="bold" font-size="4.0" fill="#ffffff">2720</text>
<text x="469.50" y="774.05" text-anchor="middle" font-family="DejaVu Sans, sans-serif" font-weight="bold" font-size="4.0" fill="#ffffff">423</text>
<text x="484.50" y="774.05" text-anchor="middle" font-family="DejaVu Sans, sans-serif" font-weight="bold" font-size="4.0" fill="#ffffff">31</text>
<text x="469.50" y="784.05" text-anchor="middle" font-family="DejaVu Sans, sans-serif" font-weight="bold" font-size="4.0" fill="#ffffff">225</text>
<text x="484.50" y="784.05" text-anchor="middle" font-family="DejaVu Sans, sans-serif" font-weight="bold" font-size="4.0" fill="#ffffff">0</text>
<rect x="462.50" y="757.00" width="29" height="11.00" fill="rgb(85,130,240)" fill-opacity="0.32"/>
<text x="469.20" y="743.10" text-anchor="middle" font-family="DejaVu Sans, sans-serif" font-weight="bold" font-size="4.0" fill="#e8e8ee">0</text>
<text x="477.00" y="743.10" text-anchor="middle" font-family="DejaVu Sans, sans-serif" font-weight="bold" font-size="4.0" fill="#5a5d75" stroke="#4e5168" stroke-width="0.5">:</text>
<text x="484.70" y="743.10" text-anchor="middle" font-family="DejaVu Sans, sans-serif" font-weight="bold" font-size="4.0" fill="#e8e8ee">0</text>
<text x="477.00" y="794.10" text-anchor="middle" font-family="DejaVu Sans, sans-serif" font-size="4.0" fill="#b8382f">766</text>
<rect x="499.00" y="696.00" width="32" height="2" fill="#bec0cc"/>
<rect x="499.00" y="777.00" width="32" height="2" fill="#bec0cc"/>
<rect x="499.00" y="696.00" width="2" height="83.00" fill="#bec0cc"/>
<rect x="529.00" y="696.00" width="2" height="83.00" fill="#bec0cc"/>
<rect x="514.00" y="697.00" width="2" height="81.00" fill="#9a9cac"/>
<rect x="514.00" y="747.00" width="2" height="21.00" fill="#ee4a3a"/>
<text x="507.50" y="703.05" text-anchor="middle" font-family="DejaVu Sans, sans-serif" font-weight="bold" font-size="4.0" fill="#ffffff">0</text>
<text x="522.50" y="703.05" text-anchor="middle" font-family="DejaVu Sans, sans-serif" font-weight="bold" font-size="4.0" fill="#ffffff">833</text>
<text x="507.50" y="713.05" text-anchor="middle" font-family="DejaVu Sans, sans-serif" font-weight="bold" font-size="4.0" fill="#ffffff">359</text>
<text x="522.50" y="713.05" text-anchor="middle" font-family="DejaVu Sans, sans-serif" font-weight="bold" font-size="4.0" fill="#ffffff">2981</text>
<text x="507.50" y="723.05" text-anchor="middle" font-family="DejaVu Sans, sans-serif" font-weight="bold" font-size="4.0" fill="#ffffff">63</text>
<text x="522.50" y="723.05" text-anchor="middle" font-family="DejaVu Sans, sans-serif" font-weight="bold" font-size="4.0" fill="#ffffff">783</text>
<text x="507.50" y="733.05" text-anchor="middle" font-family="DejaVu Sans, sans-serif" font-weight="bold" font-size="4.0" fill="#ffffff">627</text>
<text x="522.50" y="733.05" text-anchor="middle" font-family="DejaVu Sans, sans-serif" font-weight="bold" font-size="4.0" fill="#ffffff">531</text>
<text x="507.50" y="743.05" text-anchor="middle" font-family="DejaVu Sans, sans-serif" font-weight="bold" font-size="4.0" fill="#ffffff">1039</text>
<text x="522.50" y="743.05" text-anchor="middle" font-family="DejaVu Sans, sans-serif" font-weight="bold" font-size="4.0" fill="#e0453a">569</text>
<text x="507.50" y="753.05" text-anchor="middle" font-family="DejaVu Sans, sans-serif" font-weight="bold" font-size="4.0" fill="#ffffff">738</text>
<text x="522.50" y="753.05" text-anchor="middle" font-family="DejaVu Sans, sans-serif" font-weight="bold" font-size="4.0" fill="#ffffff">165</text>
<text x="507.50" y="763.55" text-anchor="middle" font-family="DejaVu Sans, sans-serif" font-weight="bold" font-size="4.0" fill="#ffffff">997</text>
<text x="522.50" y="763.55" text-anchor="middle" font-family="DejaVu Sans, sans-serif" font-weight="bold" font-size="4.0" fill="#ffffff">34</text>
<text x="507.50" y="774.05" text-anchor="middle" font-family="DejaVu Sans, sans-serif" font-weight="bold" font-size="4.0" fill="#ffffff">873</text>
<text x="522.50" y="774.05" text-anchor="middle" font-family="DejaVu Sans, sans-serif" font-weight="bold" font-size="4.0" fill="#ffffff">0</text>
<rect x="500.50" y="747.00" width="29" height="10.00" fill="rgb(85,130,240)" fill-opacity="0.32"/>
<text x="507.20" y="693.10" text-anchor="middle" font-family="DejaVu Sans, sans-serif" font-weight="bold" font-size="4.0" fill="#e8e8ee">0</text>
<text x="515.00" y="693.10" text-anchor="middle" font-family="DejaVu Sans, sans-serif" font-weight="bold" font-size="4.0" fill="#5a5d75" stroke="#4e5168" stroke-width="0.5">:</text>
<text x="522.70" y="693.10" text-anchor="middle" font-family="DejaVu Sans, sans-serif" font-weight="bold" font-size="4.0" fill="#e8e8ee">2</text>
<text x="515.00" y="784.10" text-anchor="middle" font-family="DejaVu Sans, sans-serif" font-size="4.0" fill="#b8382f">2416</text>
<rect x="536.00" y="716.00" width="32" height="2" fill="#bec0cc"/>
<rect x="536.00" y="787.00" width="32" height="2" fill="#bec0cc"/>
<rect x="536.00" y="716.00" width="2" height="73.00" fill="#bec0cc"/>
<rect x="566.00" y="716.00" width="2" height="73.00" fill="#bec0cc"/>
<rect x="551.00" y="717.00" width="2" height="71.00" fill="#9a9cac"/>
<rect x="551.00" y="727.00" width="2" height="41.00" fill="#ee4a3a"/>
<text x="544.50" y="723.05" text-anchor="middle" font-family="DejaVu Sans, sans-serif" font-weight="bold" font-size="4.0" fill="#ffffff">0</text>
<text x="559.50" y="723.05" text-anchor="middle" font-family="DejaVu Sans, sans-serif" font-weight="bold" font-size="4.0" fill="#ffffff">792</text>
<text x="544.50" y="733.05" text-anchor="middle" font-family="DejaVu Sans, sans-serif" font-weight="bold" font-size="4.0" fill="#ffffff">252</text>
<text x="559.50" y="733.05" text-anchor="middle" font-family="DejaVu Sans, sans-serif" font-weight="bold" font-size="4.0" fill="#ffffff">627</text>
<text x="544.50" y="743.05" text-anchor="middle" font-family="DejaVu Sans, sans-serif" font-weight="bold" font-size="4.0" fill="#ffffff">8</text>
<text x="559.50" y="743.05" text-anchor="middle" font-family="DejaVu Sans, sans-serif" font-weight="bold" font-size="4.0" fill="#e0453a">1375</text>
<text x="544.50" y="753.05" text-anchor="middle" font-family="DejaVu Sans, sans-serif" font-weight="bold" font-size="4.0" fill="#ffffff">2299</text>
<text x="559.50" y="753.05" text-anchor="middle" font-family="DejaVu Sans, sans-serif" font-weight="bold" font-size="4.0" fill="#ffffff">34</text>
<text x="544.50" y="763.55" text-anchor="middle" font-family="DejaVu Sans, sans-serif" font-weight="bold" font-size="4.0" fill="#ffffff">16</text>
<text x="559.50" y="763.55" text-anchor="middle" font-family="DejaVu Sans, sans-serif" font-weight="bold" font-size="4.0" fill="#ffffff">447</text>
<text x="544.50" y="774.05" text-anchor="middle" font-family="DejaVu Sans, sans-serif" font-weight="bold" font-size="4.0" fill="#ffffff">2273</text>
<text x="559.50" y="774.05" text-anchor="middle" font-family="DejaVu Sans, sans-serif" font-weight="bold" font-size="4.0" fill="#ffffff">68</text>
<text x="544.50" y="784.05" text-anchor="middle" font-family="DejaVu Sans, sans-serif" font-weight="bold" font-size="4.0" fill="#2ea02e">1536</text>
<text x="559.50" y="784.05" text-anchor="middle" font-family="DejaVu Sans, sans-serif" font-weight="bold" font-size="4.0" fill="#ffffff">0</text>
<rect x="537.50" y="757.00" width="29" height="11.00" fill="rgb(85,130,240)" fill-opacity="0.32"/>
<text x="544.20" y="713.10" text-anchor="middle" font-family="DejaVu Sans, sans-serif" font-weight="bold" font-size="4.0" fill="#e8e8ee">1</text>
<text x="552.00" y="713.10" text-anchor="middle" font-family="DejaVu Sans, sans-serif" font-weight="bold" font-size="4.0" fill="#5a5d75" stroke="#4e5168" stroke-width="0.5">:</text>
<text x="559.70" y="713.10" text-anchor="middle" font-family="DejaVu Sans, sans-serif" font-weight="bold" font-size="4.0" fill="#e8e8ee">1</text>
<text x="552.00" y="794.10" text-anchor="middle" font-family="DejaVu Sans, sans-serif" font-size="4.0" fill="#22822a">-427</text>
<rect x="574.00" y="584.00" width="32" height="2" fill="#bec0cc"/>
<rect x="574.00" y="746.00" width="32" height="2" fill="#bec0cc"/>
<rect x="574.00" y="584.00" width="2" height="164.00" fill="#bec0cc"/>
<rect x="604.00" y="584.00" width="2" height="164.00" fill="#bec0cc"/>
<rect x="589.00" y="585.00" width="2" height="162.00" fill="#9a9cac"/>
<rect x="589.00" y="615.00" width="2" height="122.00" fill="#ee4a3a"/>
<text x="582.50" y="591.05" text-anchor="middle" font-family="DejaVu Sans, sans-serif" font-weight="bold" font-size="4.0" fill="#ffffff">0</text>
<text x="597.50" y="591.05" text-anchor="middle" font-family="DejaVu Sans, sans-serif" font-weight="bold" font-size="4.0" fill="#ffffff">419</text>
<text x="582.50" y="601.05" text-anchor="middle" font-family="DejaVu Sans, sans-serif" font-weight="bold" font-size="4.0" fill="#ffffff">310</text>
<text x="597.50" y="601.05" text-anchor="middle" font-family="DejaVu Sans, sans-serif" font-weight="bold" font-size="4.0" fill="#ffffff">612</text>
<text x="582.50" y="611.05" text-anchor="middle" font-family="DejaVu Sans, sans-serif" font-weight="bold" font-size="4.0" fill="#ffffff">1512</text>
<text x="597.50" y="611.05" text-anchor="middle" font-family="DejaVu Sans, sans-serif" font-weight="bold" font-size="4.0" fill="#ffffff">3</text>
<text x="582.50" y="621.55" text-anchor="middle" font-family="DejaVu Sans, sans-serif" font-weight="bold" font-size="4.0" fill="#ffffff">586</text>
<text x="597.50" y="621.55" text-anchor="middle" font-family="DejaVu Sans, sans-serif" font-weight="bold" font-size="4.0" fill="#ffffff">557</text>
<text x="582.50" y="632.05" text-anchor="middle" font-family="DejaVu Sans, sans-serif" font-weight="bold" font-size="4.0" fill="#ffffff">606</text>
<text x="597.50" y="632.05" text-anchor="middle" font-family="DejaVu Sans, sans-serif" font-weight="bold" font-size="4.0" fill="#ffffff">502</text>
<text x="582.50" y="642.05" text-anchor="middle" font-family="DejaVu Sans, sans-serif" font-weight="bold" font-size="4.0" fill="#ffffff">335</text>
<text x="597.50" y="642.05" text-anchor="middle" font-family="DejaVu Sans, sans-serif" font-weight="bold" font-size="4.0" fill="#ffffff">952</text>
<text x="582.50" y="652.05" text-anchor="middle" font-family="DejaVu Sans, sans-serif" font-weight="bold" font-size="4.0" fill="#ffffff">45</text>
<text x="597.50" y="652.05" text-anchor="middle" font-family="DejaVu Sans, sans-serif" font-weight="bold" font-size="4.0" fill="#e0453a">2714</text>
<text x="582.50" y="662.05" text-anchor="middle" font-family="DejaVu Sans, sans-serif" font-weight="bold" font-size="4.0" fill="#ffffff">1523</text>
<text x="597.50" y="662.05" text-anchor="middle" font-family="DejaVu Sans, sans-serif" font-weight="bold" font-size="4.0" fill="#ffffff">156</text>
<text x="582.50" y="672.05" text-anchor="middle" font-family="DejaVu Sans, sans-serif" font-weight="bold" font-size="4.0" fill="#ffffff">2373</text>
<text x="597.50" y="672.05" text-anchor="middle" font-family="DejaVu Sans, sans-serif" font-weight="bold" font-size="4.0" fill="#ffffff">2226</text>
<text x="582.50" y="682.05" text-anchor="middle" font-family="DejaVu Sans, sans-serif" font-weight="bold" font-size="4.0" fill="#ffffff">261</text>
<text x="597.50" y="682.05" text-anchor="middle" font-family="DejaVu Sans, sans-serif" font-weight="bold" font-size="4.0" fill="#ffffff">103</text>
<text x="582.50" y="692.55" text-anchor="middle" font-family="DejaVu Sans, sans-serif" font-weight="bold" font-size="4.0" fill="#ffffff">2120</text>
<text x="597.50" y="692.55" text-anchor="middle" font-family="DejaVu Sans, sans-serif" font-weight="bold" font-size="4.0" fill="#ffffff">135</text>
<text x="582.50" y="703.05" text-anchor="middle" font-family="DejaVu Sans, sans-serif" font-weight="bold" font-size="4.0" fill="#ffffff">101</text>
<text x="597.50" y="703.05" text-anchor="middle" font-family="DejaVu Sans, sans-serif" font-weight="bold" font-size="4.0" fill="#e0453a">185</text>
<text x="582.50" y="713.05" text-anchor="middle" font-family="DejaVu Sans, sans-serif" font-weight="bold" font-size="4.0" fill="#ffffff">616</text>
<text x="597.50" y="713.05" text-anchor="middle" font-family="DejaVu Sans, sans-serif" font-weight="bold" font-size="4.0" fill="#e0453a">1186</text>
<text x="582.50" y="723.05" text-anchor="middle" font-family="DejaVu Sans, sans-serif" font-weight="bold" font-size="4.0" fill="#ffffff">142</text>
<text x="597.50" y="723.05" text-anchor="middle" font-family="DejaVu Sans, sans-serif" font-weight="bold" font-size="4.0" fill="#e0453a">406</text>
<text x="582.50" y="733.05" text-anchor="middle" font-family="DejaVu Sans, sans-serif" font-weight="bold" font-size="4.0" fill="#ffffff">641</text>
<text x="597.50" y="733.05" text-anchor="middle" font-family="DejaVu Sans, sans-serif" font-weight="bold" font-size="4.0" fill="#e0453a">1317</text>
<text x="582.50" y="743.05" text-anchor="middle" font-family="DejaVu Sans, sans-serif" font-weight="bold" font-size="4.0" fill="#ffffff">1797</text>
<text x="597.50" y="743.05" text-anchor="middle" font-family="DejaVu Sans, sans-serif" font-weight="bold" font-size="4.0" fill="#ffffff">0</text>
<rect x="575.50" y="626.00" width="29" height="10.00" fill="rgb(85,130,240)" fill-opacity="0.32"/>
<text x="582.20" y="581.10" text-anchor="middle" font-family="DejaVu Sans, sans-serif" font-weight="bold" font-size="4.0" fill="#e8e8ee">0</text>
<text x="590.00" y="581.10" text-anchor="middle" font-family="DejaVu Sans, sans-serif" font-weight="bold" font-size="4.0" fill="#5a5d75" stroke="#4e5168" stroke-width="0.5">:</text>
<text x="597.70" y="581.10" text-anchor="middle" font-family="DejaVu Sans, sans-serif" font-weight="bold" font-size="4.0" fill="#e8e8ee">3</text>
<text x="590.00" y="753.10" text-anchor="middle" font-family="DejaVu Sans, sans-serif" font-size="4.0" fill="#b8382f">4927</text>
<rect x="612.00" y="594.00" width="32" height="2" fill="#bec0cc"/>
<rect x="612.00" y="665.00" width="32" height="2" fill="#bec0cc"/>
<rect x="612.00" y="594.00" width="2" height="73.00" fill="#bec0cc"/>
<rect x="642.00" y="594.00" width="2" height="73.00" fill="#bec0cc"/>
<rect x="627.00" y="595.00" width="2" height="71.00" fill="#9a9cac"/>
<rect x="627.00" y="605.00" width="2" height="61.00" fill="#28a028"/>
<text x="620.50" y="601.05" text-anchor="middle" font-family="DejaVu Sans, sans-serif" font-weight="bold" font-size="4.0" fill="#ffffff">0</text>
<text x="635.50" y="601.05" text-anchor="middle" font-family="DejaVu Sans, sans-serif" font-weight="bold" font-size="4.0" fill="#ffffff">2012</text>
<text x="620.50" y="611.05" text-anchor="middle" font-family="DejaVu Sans, sans-serif" font-weight="bold" font-size="4.0" fill="#ffffff">2317</text>
<text x="635.50" y="611.05" text-anchor="middle" font-family="DejaVu Sans, sans-serif" font-weight="bold" font-size="4.0" fill="#ffffff">92</text>
<text x="620.50" y="621.55" text-anchor="middle" font-family="DejaVu Sans, sans-serif" font-weight="bold" font-size="4.0" fill="#ffffff">2663</text>
<text x="635.50" y="621.55" text-anchor="middle" font-family="DejaVu Sans, sans-serif" font-weight="bold" font-size="4.0" fill="#ffffff">636</text>
<text x="620.50" y="632.05" text-anchor="middle" font-family="DejaVu Sans, sans-serif" font-weight="bold" font-size="4.0" fill="#ffffff">1032</text>
<text x="635.50" y="632.05" text-anchor="middle" font-family="DejaVu Sans, sans-serif" font-weight="bold" font-size="4.0" fill="#ffffff">2196</text>
<text x="620.50" y="642.05" text-anchor="middle" font-family="DejaVu Sans, sans-serif" font-weight="bold" font-size="4.0" fill="#2ea02e">2316</text>
<text x="635.50" y="642.05" text-anchor="middle" font-family="DejaVu Sans, sans-serif" font-weight="bold" font-size="4.0" fill="#ffffff">131</text>
<text x="620.50" y="652.05" text-anchor="middle" font-family="DejaVu Sans, sans-serif" font-weight="bold" font-size="4.0" fill="#2ea02e">1771</text>
<text x="635.50" y="652.05" text-anchor="middle" font-family="DejaVu Sans, sans-serif" font-weight="bold" font-size="4.0" fill="#e0453a">2143</text>
<text x="620.50" y="662.05" text-anchor="middle" font-family="DejaVu Sans, sans-serif" font-weight="bold" font-size="4.0" fill="#ffffff">350</text>
<text x="635.50" y="662.05" text-anchor="middle" font-family="DejaVu Sans, sans-serif" font-weight="bold" font-size="4.0" fill="#ffffff">0</text>
<rect x="613.50" y="626.00" width="29" height="10.00" fill="rgb(85,130,240)" fill-opacity="0.32"/>
<text x="620.20" y="591.10" text-anchor="middle" font-family="DejaVu Sans, sans-serif" font-weight="bold" font-size="4.0" fill="#e8e8ee">1</text>
<text x="628.00" y="591.10" text-anchor="middle" font-family="DejaVu Sans, sans-serif" font-weight="bold" font-size="4.0" fill="#5a5d75" stroke="#4e5168" stroke-width="0.5">:</text>
<text x="635.70" y="591.10" text-anchor="middle" font-family="DejaVu Sans, sans-serif" font-weight="bold" font-size="4.0" fill="#e8e8ee">1</text>
<text x="628.00" y="672.10" text-anchor="middle" font-family="DejaVu Sans, sans-serif" font-size="4.0" fill="#22822a">-1826</text>
<rect x="650.00" y="584.00" width="32" height="2" fill="#bec0cc"/>
<rect x="650.00" y="665.00" width="32" height="2" fill="#bec0cc"/>
<rect x="650.00" y="584.00" width="2" height="83.00" fill="#bec0cc"/>
<rect x="680.00" y="584.00" width="2" height="83.00" fill="#bec0cc"/>
<rect x="665.00" y="585.00" width="2" height="81.00" fill="#9a9cac"/>
<rect x="665.00" y="585.00" width="2" height="71.00" fill="#ee4a3a"/>
<text x="658.50" y="591.05" text-anchor="middle" font-family="DejaVu Sans, sans-serif" font-weight="bold" font-size="4.0" fill="#ffffff">0</text>
<text x="673.50" y="591.05" text-anchor="middle" font-family="DejaVu Sans, sans-serif" font-weight="bold" font-size="4.0" fill="#e0453a">9</text>
<text x="658.50" y="601.05" text-anchor="middle" font-family="DejaVu Sans, sans-serif" font-weight="bold" font-size="4.0" fill="#ffffff">648</text>
<text x="673.50" y="601.05" text-anchor="middle" font-family="DejaVu Sans, sans-serif" font-weight="bold" font-size="4.0" fill="#e0453a">68</text>
<text x="658.50" y="611.05" text-anchor="middle" font-family="DejaVu Sans, sans-serif" font-weight="bold" font-size="4.0" fill="#ffffff">176</text>
<text x="673.50" y="611.05" text-anchor="middle" font-family="DejaVu Sans, sans-serif" font-weight="bold" font-size="4.0" fill="#e0453a">1480</text>
<text x="658.50" y="621.55" text-anchor="middle" font-family="DejaVu Sans, sans-serif" font-weight="bold" font-size="4.0" fill="#ffffff">2998</text>
<text x="673.50" y="621.55" text-anchor="middle" font-family="DejaVu Sans, sans-serif" font-weight="bold" font-size="4.0" fill="#ffffff">965</text>
<text x="658.50" y="632.05" text-anchor="middle" font-family="DejaVu Sans, sans-serif" font-weight="bold" font-size="4.0" fill="#ffffff">2570</text>
<text x="673.50" y="632.05" text-anchor="middle" font-family="DejaVu Sans, sans-serif" font-weight="bold" font-size="4.0" fill="#e0453a">81</text>
<text x="658.50" y="642.05" text-anchor="middle" font-family="DejaVu Sans, sans-serif" font-weight="bold" font-size="4.0" fill="#ffffff">33</text>
<text x="673.50" y="642.05" text-anchor="middle" font-family="DejaVu Sans, sans-serif" font-weight="bold" font-size="4.0" fill="#ffffff">2419</text>
<text x="658.50" y="652.05" text-anchor="middle" font-family="DejaVu Sans, sans-serif" font-weight="bold" font-size="4.0" fill="#ffffff">8</text>
<text x="673.50" y="652.05" text-anchor="middle" font-family="DejaVu Sans, sans-serif" font-weight="bold" font-size="4.0" fill="#ffffff">788</text>
<text x="658.50" y="662.05" text-anchor="middle" font-family="DejaVu Sans, sans-serif" font-weight="bold" font-size="4.0" fill="#ffffff">825</text>
<text x="673.50" y="662.05" text-anchor="middle" font-family="DejaVu Sans, sans-serif" font-weight="bold" font-size="4.0" fill="#ffffff">0</text>
<rect x="651.50" y="626.00" width="29" height="10.00" fill="rgb(85,130,240)" fill-opacity="0.32"/>
<text x="658.20" y="581.10" text-anchor="middle" font-family="DejaVu Sans, sans-serif" font-weight="bold" font-size="4.0" fill="#e8e8ee">0</text>
<text x="666.00" y="581.10" text-anchor="middle" font-family="DejaVu Sans, sans-serif" font-weight="bold" font-size="4.0" fill="#5a5d75" stroke="#4e5168" stroke-width="0.5">:</text>
<text x="673.70" y="581.10" text-anchor="middle" font-family="DejaVu Sans, sans-serif" font-weight="bold" font-size="4.0" fill="#e8e8ee">4</text>
<text x="666.00" y="672.10" text-anchor="middle" font-family="DejaVu Sans, sans-serif" font-size="4.0" fill="#b8382f">7966</text>
<rect x="688.00" y="493.00" width="32" height="2" fill="#bec0cc"/>
<rect x="688.00" y="594.00" width="32" height="2" fill="#bec0cc"/>
<rect x="688.00" y="493.00" width="2" height="103.00" fill="#bec0cc"/>
<rect x="718.00" y="493.00" width="2" height="103.00" fill="#bec0cc"/>
<rect x="703.00" y="494.00" width="2" height="101.00" fill="#9a9cac"/>
<rect x="703.00" y="504.00" width="2" height="91.00" fill="#ee4a3a"/>
<text x="696.50" y="500.05" text-anchor="middle" font-family="DejaVu Sans, sans-serif" font-weight="bold" font-size="4.0" fill="#ffffff">0</text>
<text x="711.50" y="500.05" text-anchor="middle" font-family="DejaVu Sans, sans-serif" font-weight="bold" font-size="4.0" fill="#ffffff">577</text>
<text x="696.50" y="510.05" text-anchor="middle" font-family="DejaVu Sans, sans-serif" font-weight="bold" font-size="4.0" fill="#ffffff">2124</text>
<text x="711.50" y="510.05" text-anchor="middle" font-family="DejaVu Sans, sans-serif" font-weight="bold" font-size="4.0" fill="#e0453a">187</text>
<text x="696.50" y="520.05" text-anchor="middle" font-family="DejaVu Sans, sans-serif" font-weight="bold" font-size="4.0" fill="#ffffff">939</text>
<text x="711.50" y="520.05" text-anchor="middle" font-family="DejaVu Sans, sans-serif" font-weight="bold" font-size="4.0" fill="#ffffff">560</text>
<text x="696.50" y="530.05" text-anchor="middle" font-family="DejaVu Sans, sans-serif" font-weight="bold" font-size="4.0" fill="#ffffff">2905</text>
<text x="711.50" y="530.05" text-anchor="middle" font-family="DejaVu Sans, sans-serif" font-weight="bold" font-size="4.0" fill="#ffffff">695</text>
<text x="696.50" y="540.55" text-anchor="middle" font-family="DejaVu Sans, sans-serif" font-weight="bold" font-size="4.0" fill="#ffffff">468</text>
<text x="711.50" y="540.55" text-anchor="middle" font-family="DejaVu Sans, sans-serif" font-weight="bold" font-size="4.0" fill="#ffffff">81</text>
<text x="696.50" y="551.05" text-anchor="middle" font-family="DejaVu Sans, sans-serif" font-weight="bold" font-size="4.0" fill="#ffffff">1473</text>
<text x="711.50" y="551.05" text-anchor="middle" font-family="DejaVu Sans, sans-serif" font-weight="bold" font-size="4.0" fill="#e0453a">997</text>
<text x="696.50" y="561.05" text-anchor="middle" font-family="DejaVu Sans, sans-serif" font-weight="bold" font-size="4.0" fill="#ffffff">63</text>
<text x="711.50" y="561.05" text-anchor="middle" font-family="DejaVu Sans, sans-serif" font-weight="bold" font-size="4.0" fill="#ffffff">1830</text>
<text x="696.50" y="571.05" text-anchor="middle" font-family="DejaVu Sans, sans-serif" font-weight="bold" font-size="4.0" fill="#2ea02e">423</text>
<text x="711.50" y="571.05" text-anchor="middle" font-family="DejaVu Sans, sans-serif" font-weight="bold" font-size="4.0" fill="#ffffff">43</text>
<text x="696.50" y="581.05" text-anchor="middle" font-family="DejaVu Sans, sans-serif" font-weight="bold" font-size="4.0" fill="#ffffff">1245</text>
<text x="711.50" y="581.05" text-anchor="middle" font-family="DejaVu Sans, sans-serif" font-weight="bold" font-size="4.0" fill="#ffffff">1400</text>
<text x="696.50" y="591.05" text-anchor="middle" font-family="DejaVu Sans, sans-serif" font-weight="bold" font-size="4.0" fill="#2ea02e">481</text>
<text x="711.50" y="591.05" text-anchor="middle" font-family="DejaVu Sans, sans-serif" font-weight="bold" font-size="4.0" fill="#ffffff">0</text>
<rect x="689.50" y="555.00" width="29" height="10.00" fill="rgb(85,130,240)" fill-opacity="0.32"/>
<text x="696.20" y="490.10" text-anchor="middle" font-family="DejaVu Sans, sans-serif" font-weight="bold" font-size="4.0" fill="#e8e8ee">0</text>
<text x="704.00" y="490.10" text-anchor="middle" font-family="DejaVu Sans, sans-serif" font-weight="bold" font-size="4.0" fill="#5a5d75" stroke="#4e5168" stroke-width="0.5">:</text>
<text x="711.70" y="490.10" text-anchor="middle" font-family="DejaVu Sans, sans-serif" font-weight="bold" font-size="4.0" fill="#e8e8ee">1</text>
<text x="704.00" y="601.10" text-anchor="middle" font-family="DejaVu Sans, sans-serif" font-size="4.0" fill="#b8382f">2266</text>
<rect x="726.00" y="462.00" width="32" height="2" fill="#bec0cc"/>
<rect x="726.00" y="554.00" width="32" height="2" fill="#bec0cc"/>
<rect x="726.00" y="462.00" width="2" height="94.00" fill="#bec0cc"/>
<rect x="756.00" y="462.00" width="2" height="94.00" fill="#bec0cc"/>
<rect x="741.00" y="463.00" width="2" height="92.00" fill="#9a9cac"/>
<rect x="741.00" y="484.00" width="2" height="30.00" fill="#ee4a3a"/>
<text x="734.50" y="469.55" text-anchor="middle" font-family="DejaVu Sans, sans-serif" font-weight="bold" font-size="4.0" fill="#ffffff">0</text>
<text x="749.50" y="469.55" text-anchor="middle" font-family="DejaVu Sans, sans-serif" font-weight="bold" font-size="4.0" fill="#ffffff">990</text>
<text x="734.50" y="480.05" text-anchor="middle" font-family="DejaVu Sans, sans-serif" font-weight="bold" font-size="4.0" fill="#2ea02e">538</text>
<text x="749.50" y="480.05" text-anchor="middle" font-family="DejaVu Sans, sans-serif" font-weight="bold" font-size="4.0" fill="#ffffff">2749</text>
<text x="734.50" y="490.05" text-anchor="middle" font-family="DejaVu Sans, sans-serif" font-weight="bold" font-size="4.0" fill="#ffffff">1584</text>
<text x="749.50" y="490.05" text-anchor="middle" font-family="DejaVu Sans, sans-serif" font-weight="bold" font-size="4.0" fill="#ffffff">1304</text>
<text x="734.50" y="500.05" text-anchor="middle" font-family="DejaVu Sans, sans-serif" font-weight="bold" font-size="4.0" fill="#ffffff">294</text>
<text x="749.50" y="500.05" text-anchor="middle" font-family="DejaVu Sans, sans-serif" font-weight="bold" font-size="4.0" fill="#ffffff">2607</text>
<text x="734.50" y="510.05" text-anchor="middle" font-family="DejaVu Sans, sans-serif" font-weight="bold" font-size="4.0" fill="#ffffff">2292</text>
<text x="749.50" y="510.05" text-anchor="middle" font-family="DejaVu Sans, sans-serif" font-weight="bold" font-size="4.0" fill="#ffffff">996</text>
<text x="734.50" y="520.05" text-anchor="middle" font-family="DejaVu Sans, sans-serif" font-weight="bold" font-size="4.0" fill="#ffffff">1101</text>
<text x="749.50" y="520.05" text-anchor="middle" font-family="DejaVu Sans, sans-serif" font-weight="bold" font-size="4.0" fill="#ffffff">1841</text>
<text x="734.50" y="530.05" text-anchor="middle" font-family="DejaVu Sans, sans-serif" font-weight="bold" font-size="4.0" fill="#ffffff">1586</text>
<text x="749.50" y="530.05" text-anchor="middle" font-family="DejaVu Sans, sans-serif" font-weight="bold" font-size="4.0" fill="#ffffff">663</text>
<text x="734.50" y="540.55" text-anchor="middle" font-family="DejaVu Sans, sans-serif" font-weight="bold" font-size="4.0" fill="#ffffff">404</text>
<text x="749.50" y="540.55" text-anchor="middle" font-family="DejaVu Sans, sans-serif" font-weight="bold" font-size="4.0" fill="#ffffff">856</text>
<text x="734.50" y="551.05" text-anchor="middle" font-family="DejaVu Sans, sans-serif" font-weight="bold" font-size="4.0" fill="#ffffff">1616</text>
<text x="749.50" y="551.05" text-anchor="middle" font-family="DejaVu Sans, sans-serif" font-weight="bold" font-size="4.0" fill="#ffffff">0</text>
<rect x="727.50" y="524.00" width="29" height="10.00" fill="rgb(85,130,240)" fill-opacity="0.32"/>
<text x="734.20" y="459.10" text-anchor="middle" font-family="DejaVu Sans, sans-serif" font-weight="bold" font-size="4.0" fill="#e8e8ee">1</text>
<text x="742.00" y="459.10" text-anchor="middle" font-family="DejaVu Sans, sans-serif" font-weight="bold" font-size="4.0" fill="#5a5d75" stroke="#4e5168" stroke-width="0.5">:</text>
<text x="749.70" y="459.10" text-anchor="middle" font-family="DejaVu Sans, sans-serif" font-weight="bold" font-size="4.0" fill="#e8e8ee">1</text>
<text x="742.00" y="561.10" text-anchor="middle" font-family="DejaVu Sans, sans-serif" font-size="4.0" fill="#22822a">-1692</text>
<rect x="764.00" y="412.00" width="32" height="2" fill="#bec0cc"/>
<rect x="764.00" y="493.00" width="32" height="2" fill="#bec0cc"/>
<rect x="764.00" y="412.00" width="2" height="83.00" fill="#bec0cc"/>
<rect x="794.00" y="412.00" width="2" height="83.00" fill="#bec0cc"/>
<rect x="779.00" y="413.00" width="2" height="81.00" fill="#9a9cac"/>
<rect x="779.00" y="463.00" width="2" height="21.00" fill="#ee4a3a"/>
<text x="772.50" y="419.05" text-anchor="middle" font-family="DejaVu Sans, sans-serif" font-weight="bold" font-size="4.0" fill="#ffffff">0</text>
<text x="787.50" y="419.05" text-anchor="middle" font-family="DejaVu Sans, sans-serif" font-weight="bold" font-size="4.0" fill="#ffffff">1245</text>
<text x="772.50" y="429.05" text-anchor="middle" font-family="DejaVu Sans, sans-serif" font-weight="bold" font-size="4.0" fill="#ffffff">312</text>
<text x="787.50" y="429.05" text-anchor="middle" font-family="DejaVu Sans, sans-serif" font-weight="bold" font-size="4.0" fill="#ffffff">931</text>
<text x="772.50" y="439.05" text-anchor="middle" font-family="DejaVu Sans, sans-serif" font-weight="bold" font-size="4.0" fill="#ffffff">2554</text>
<text x="787.50" y="439.05" text-anchor="middle" font-family="DejaVu Sans, sans-serif" font-weight="bold" font-size="4.0" fill="#ffffff">242</text>
<text x="772.50" y="449.05" text-anchor="middle" font-family="DejaVu Sans, sans-serif" font-weight="bold" font-size="4.0" fill="#ffffff">669</text>
<text x="787.50" y="449.05" text-anchor="middle" font-family="DejaVu Sans, sans-serif" font-weight="bold" font-size="4.0" fill="#ffffff">31</text>
<text x="772.50" y="459.05" text-anchor="middle" font-family="DejaVu Sans, sans-serif" font-weight="bold" font-size="4.0" fill="#ffffff">120</text>
<text x="787.50" y="459.05" text-anchor="middle" font-family="DejaVu Sans, sans-serif" font-weight="bold" font-size="4.0" fill="#ffffff">1845</text>
<text x="772.50" y="469.55" text-anchor="middle" font-family="DejaVu Sans, sans-serif" font-weight="bold" font-size="4.0" fill="#ffffff">376</text>
<text x="787.50" y="469.55" text-anchor="middle" font-family="DejaVu Sans, sans-serif" font-weight="bold" font-size="4.0" fill="#ffffff">163</text>
<text x="772.50" y="480.05" text-anchor="middle" font-family="DejaVu Sans, sans-serif" font-weight="bold" font-size="4.0" fill="#ffffff">803</text>
<text x="787.50" y="480.05" text-anchor="middle" font-family="DejaVu Sans, sans-serif" font-weight="bold" font-size="4.0" fill="#ffffff">744</text>
<text x="772.50" y="490.05" text-anchor="middle" font-family="DejaVu Sans, sans-serif" font-weight="bold" font-size="4.0" fill="#ffffff">32</text>
<text x="787.50" y="490.05" text-anchor="middle" font-family="DejaVu Sans, sans-serif" font-weight="bold" font-size="4.0" fill="#ffffff">0</text>
<rect x="765.50" y="443.00" width="29" height="10.00" fill="rgb(85,130,240)" fill-opacity="0.32"/>
<text x="772.20" y="409.10" text-anchor="middle" font-family="DejaVu Sans, sans-serif" font-weight="bold" font-size="4.0" fill="#e8e8ee">0</text>
<text x="780.00" y="409.10" text-anchor="middle" font-family="DejaVu Sans, sans-serif" font-weight="bold" font-size="4.0" fill="#5a5d75" stroke="#4e5168" stroke-width="0.5">:</text>
<text x="787.70" y="409.10" text-anchor="middle" font-family="DejaVu Sans, sans-serif" font-weight="bold" font-size="4.0" fill="#e8e8ee">1</text>
<text x="780.00" y="500.10" text-anchor="middle" font-family="DejaVu Sans, sans-serif" font-size="4.0" fill="#b8382f">787</text>
<rect x="802.00" y="432.00" width="32" height="2" fill="#bec0cc"/>
<rect x="802.00" y="503.00" width="32" height="2" fill="#bec0cc"/>
<rect x="802.00" y="432.00" width="2" height="73.00" fill="#bec0cc"/>
<rect x="832.00" y="432.00" width="2" height="73.00" fill="#bec0cc"/>
<rect x="817.00" y="433.00" width="2" height="71.00" fill="#9a9cac"/>
<rect x="817.00" y="453.00" width="2" height="31.00" fill="#ee4a3a"/>
<text x="810.50" y="439.05" text-anchor="middle" font-family="DejaVu Sans, sans-serif" font-weight="bold" font-size="4.0" fill="#ffffff">0</text>
<text x="825.50" y="439.05" text-anchor="middle" font-family="DejaVu Sans, sans-serif" font-weight="bold" font-size="4.0" fill="#ffffff">1884</text>
<text x="810.50" y="449.05" text-anchor="middle" font-family="DejaVu Sans, sans-serif" font-weight="bold" font-size="4.0" fill="#2ea02e">2787</text>
<text x="825.50" y="449.05" text-anchor="middle" font-family="DejaVu Sans, sans-serif" font-weight="bold" font-size="4.0" fill="#ffffff">1260</text>
<text x="810.50" y="459.05" text-anchor="middle" font-family="DejaVu Sans, sans-serif" font-weight="bold" font-size="4.0" fill="#2ea02e">1969</text>
<text x="825.50" y="459.05" text-anchor="middle" font-family="DejaVu Sans, sans-serif" font-weight="bold" font-size="4.0" fill="#ffffff">2003</text>
<text x="810.50" y="469.55" text-anchor="middle" font-family="DejaVu Sans, sans-serif" font-weight="bold" font-size="4.0" fill="#ffffff">2690</text>
<text x="825.50" y="469.55" text-anchor="middle" font-family="DejaVu Sans, sans-serif" font-weight="bold" font-size="4.0" fill="#ffffff">579</text>
<text x="810.50" y="480.05" text-anchor="middle" font-family="DejaVu Sans, sans-serif" font-weight="bold" font-size="4.0" fill="#ffffff">20</text>
<text x="825.50" y="480.05" text-anchor="middle" font-family="DejaVu Sans, sans-serif" font-weight="bold" font-size="4.0" fill="#ffffff">798</text>
<text x="810.50" y="490.05" text-anchor="middle" font-family="DejaVu Sans, sans-serif" font-weight="bold" font-size="4.0" fill="#ffffff">2733</text>
<text x="825.50" y="490.05" text-anchor="middle" font-family="DejaVu Sans, sans-serif" font-weight="bold" font-size="4.0" fill="#ffffff">1936</text>
<text x="810.50" y="500.05" text-anchor="middle" font-family="DejaVu Sans, sans-serif" font-weight="bold" font-size="4.0" fill="#ffffff">17</text>
<text x="825.50" y="500.05" text-anchor="middle" font-family="DejaVu Sans, sans-serif" font-weight="bold" font-size="4.0" fill="#ffffff">0</text>
<rect x="803.50" y="474.00" width="29" height="10.00" fill="rgb(85,130,240)" fill-opacity="0.32"/>
<text x="810.20" y="429.10" text-anchor="middle" font-family="DejaVu Sans, sans-serif" font-weight="bold" font-size="4.0" fill="#e8e8ee">0</text>
<text x="818.00" y="429.10" text-anchor="middle" font-family="DejaVu Sans, sans-serif" font-weight="bold" font-size="4.0" fill="#5a5d75" stroke="#4e5168" stroke-width="0.5">:</text>
<text x="825.70" y="429.10" text-anchor="middle" font-family="DejaVu Sans, sans-serif" font-weight="bold" font-size="4.0" fill="#e8e8ee">0</text>
<text x="818.00" y="510.10" text-anchor="middle" font-family="DejaVu Sans, sans-serif" font-size="4.0" fill="#22822a">-1069</text>
<rect x="839.00" y="381.00" width="32" height="2" fill="#bec0cc"/>
<rect x="839.00" y="473.00" width="32" height="2" fill="#bec0cc"/>
<rect x="839.00" y="381.00" width="2" height="94.00" fill="#bec0cc"/>
<rect x="869.00" y="381.00" width="2" height="94.00" fill="#bec0cc"/>
<rect x="854.00" y="382.00" width="2" height="92.00" fill="#9a9cac"/>
<rect x="854.00" y="433.00" width="2" height="30.00" fill="#ee4a3a"/>
<text x="847.50" y="388.55" text-anchor="middle" font-family="DejaVu Sans, sans-serif" font-weight="bold" font-size="4.0" fill="#ffffff">0</text>
<text x="862.50" y="388.55" text-anchor="middle" font-family="DejaVu Sans, sans-serif" font-weight="bold" font-size="4.0" fill="#ffffff">2321</text>
<text x="847.50" y="399.05" text-anchor="middle" font-family="DejaVu Sans, sans-serif" font-weight="bold" font-size="4.0" fill="#ffffff">2283</text>
<text x="862.50" y="399.05" text-anchor="middle" font-family="DejaVu Sans, sans-serif" font-weight="bold" font-size="4.0" fill="#ffffff">751</text>
<text x="847.50" y="409.05" text-anchor="middle" font-family="DejaVu Sans, sans-serif" font-weight="bold" font-size="4.0" fill="#ffffff">39</text>
<text x="862.50" y="409.05" text-anchor="middle" font-family="DejaVu Sans, sans-serif" font-weight="bold" font-size="4.0" fill="#ffffff">696</text>
<text x="847.50" y="419.05" text-anchor="middle" font-family="DejaVu Sans, sans-serif" font-weight="bold" font-size="4.0" fill="#ffffff">1002</text>
<text x="862.50" y="419.05" text-anchor="middle" font-family="DejaVu Sans, sans-serif" font-weight="bold" font-size="4.0" fill="#ffffff">39</text>
<text x="847.50" y="429.05" text-anchor="middle" font-family="DejaVu Sans, sans-serif" font-weight="bold" font-size="4.0" fill="#ffffff">959</text>
<text x="862.50" y="429.05" text-anchor="middle" font-family="DejaVu Sans, sans-serif" font-weight="bold" font-size="4.0" fill="#ffffff">1973</text>
<text x="847.50" y="439.05" text-anchor="middle" font-family="DejaVu Sans, sans-serif" font-weight="bold" font-size="4.0" fill="#2ea02e">53</text>
<text x="862.50" y="439.05" text-anchor="middle" font-family="DejaVu Sans, sans-serif" font-weight="bold" font-size="4.0" fill="#ffffff">1629</text>
<text x="847.50" y="449.05" text-anchor="middle" font-family="DejaVu Sans, sans-serif" font-weight="bold" font-size="4.0" fill="#ffffff">2325</text>
<text x="862.50" y="449.05" text-anchor="middle" font-family="DejaVu Sans, sans-serif" font-weight="bold" font-size="4.0" fill="#ffffff">363</text>
<text x="847.50" y="459.05" text-anchor="middle" font-family="DejaVu Sans, sans-serif" font-weight="bold" font-size="4.0" fill="#ffffff">604</text>
<text x="862.50" y="459.05" text-anchor="middle" font-family="DejaVu Sans, sans-serif" font-weight="bold" font-size="4.0" fill="#ffffff">44</text>
<text x="847.50" y="469.55" text-anchor="middle" font-family="DejaVu Sans, sans-serif" font-weight="bold" font-size="4.0" fill="#ffffff">106</text>
<text x="862.50" y="469.55" text-anchor="middle" font-family="DejaVu Sans, sans-serif" font-weight="bold" font-size="4.0" fill="#ffffff">0</text>
<rect x="840.50" y="433.00" width="29" height="10.00" fill="rgb(85,130,240)" fill-opacity="0.32"/>
<text x="847.20" y="378.10" text-anchor="middle" font-family="DejaVu Sans, sans-serif" font-weight="bold" font-size="4.0" fill="#e8e8ee">2</text>
<text x="855.00" y="378.10" text-anchor="middle" font-family="DejaVu Sans, sans-serif" font-weight="bold" font-size="4.0" fill="#5a5d75" stroke="#4e5168" stroke-width="0.5">:</text>
<text x="862.70" y="378.10" text-anchor="middle" font-family="DejaVu Sans, sans-serif" font-weight="bold" font-size="4.0" fill="#e8e8ee">8</text>
<text x="855.00" y="480.10" text-anchor="middle" font-family="DejaVu Sans, sans-serif" font-size="4.0" fill="#b8382f">1186</text>
<rect x="877.00" y="351.00" width="32" height="2" fill="#bec0cc"/>
<rect x="877.00" y="442.00" width="32" height="2" fill="#bec0cc"/>
<rect x="877.00" y="351.00" width="2" height="93.00" fill="#bec0cc"/>
<rect x="907.00" y="351.00" width="2" height="93.00" fill="#bec0cc"/>
<rect x="892.00" y="352.00" width="2" height="91.00" fill="#9a9cac"/>
<rect x="892.00" y="372.00" width="2" height="71.00" fill="#ee4a3a"/>
<text x="885.50" y="358.05" text-anchor="middle" font-family="DejaVu Sans, sans-serif" font-weight="bold" font-size="4.0" fill="#ffffff">0</text>
<text x="900.50" y="358.05" text-anchor="middle" font-family="DejaVu Sans, sans-serif" font-weight="bold" font-size="4.0" fill="#e0453a">2033</text>
<text x="885.50" y="368.05" text-anchor="middle" font-family="DejaVu Sans, sans-serif" font-weight="bold" font-size="4.0" fill="#ffffff">305</text>
<text x="900.50" y="368.05" text-anchor="middle" font-family="DejaVu Sans, sans-serif" font-weight="bold" font-size="4.0" fill="#ffffff">939</text>
<text x="885.50" y="378.05" text-anchor="middle" font-family="DejaVu Sans, sans-serif" font-weight="bold" font-size="4.0" fill="#ffffff">402</text>
<text x="900.50" y="378.05" text-anchor="middle" font-family="DejaVu Sans, sans-serif" font-weight="bold" font-size="4.0" fill="#ffffff">80</text>
<text x="885.50" y="388.55" text-anchor="middle" font-family="DejaVu Sans, sans-serif" font-weight="bold" font-size="4.0" fill="#ffffff">527</text>
<text x="900.50" y="388.55" text-anchor="middle" font-family="DejaVu Sans, sans-serif" font-weight="bold" font-size="4.0" fill="#ffffff">1115</text>
<text x="885.50" y="399.05" text-anchor="middle" font-family="DejaVu Sans, sans-serif" font-weight="bold" font-size="4.0" fill="#ffffff">318</text>
<text x="900.50" y="399.05" text-anchor="middle" font-family="DejaVu Sans, sans-serif" font-weight="bold" font-size="4.0" fill="#e0453a">77</text>
<text x="885.50" y="409.05" text-anchor="middle" font-family="DejaVu Sans, sans-serif" font-weight="bold" font-size="4.0" fill="#ffffff">51</text>
<text x="900.50" y="409.05" text-anchor="middle" font-family="DejaVu Sans, sans-serif" font-weight="bold" font-size="4.0" fill="#ffffff">829</text>
<text x="885.50" y="419.05" text-anchor="middle" font-family="DejaVu Sans, sans-serif" font-weight="bold" font-size="4.0" fill="#ffffff">2907</text>
<text x="900.50" y="419.05" text-anchor="middle" font-family="DejaVu Sans, sans-serif" font-weight="bold" font-size="4.0" fill="#ffffff">295</text>
<text x="885.50" y="429.05" text-anchor="middle" font-family="DejaVu Sans, sans-serif" font-weight="bold" font-size="4.0" fill="#ffffff">1065</text>
<text x="900.50" y="429.05" text-anchor="middle" font-family="DejaVu Sans, sans-serif" font-weight="bold" font-size="4.0" fill="#ffffff">842</text>
<text x="885.50" y="439.05" text-anchor="middle" font-family="DejaVu Sans, sans-serif" font-weight="bold" font-size="4.0" fill="#ffffff">273</text>
<text x="900.50" y="439.05" text-anchor="middle" font-family="DejaVu Sans, sans-serif" font-weight="bold" font-size="4.0" fill="#ffffff">0</text>
<rect x="878.50" y="372.00" width="29" height="10.00" fill="rgb(85,130,240)" fill-opacity="0.32"/>
<text x="885.20" y="348.10" text-anchor="middle" font-family="DejaVu Sans, sans-serif" font-weight="bold" font-size="4.0" fill="#e8e8ee">0</text>
<text x="893.00" y="348.10" text-anchor="middle" font-family="DejaVu Sans, sans-serif" font-weight="bold" font-size="4.0" fill="#5a5d75" stroke="#4e5168" stroke-width="0.5">:</text>
<text x="900.70" y="348.10" text-anchor="middle" font-family="DejaVu Sans, sans-serif" font-weight="bold" font-size="4.0" fill="#e8e8ee">2</text>
<text x="893.00" y="449.10" text-anchor="middle" font-family="DejaVu Sans, sans-serif" font-size="4.0" fill="#b8382f">1949</text>
<rect x="915.00" y="280.00" width="32" height="2" fill="#bec0cc"/>
<rect x="915.00" y="392.00" width="32" height="2" fill="#bec0cc"/>
<rect x="915.00" y="280.00" width="2" height="114.00" fill="#bec0cc"/>
<rect x="945.00" y="280.00" width="2" height="114.00" fill="#bec0cc"/>
<rect x="930.00" y="281.00" width="2" height="112.00" fill="#9a9cac"/>
<rect x="930.00" y="281.00" width="2" height="101.00" fill="#ee4a3a"/>
<rect x="917.00" y="301.00" width="28" height="31.00" fill="#441a2d"/>
<rect x="930.00" y="301.00" width="2" height="31.00" fill="#ee4a3a"/>
<text x="923.50" y="287.05" text-anchor="middle" font-family="DejaVu Sans, sans-serif" font-weight="bold" font-size="4.0" fill="#ffffff">0</text>
<text x="938.50" y="287.05" text-anchor="middle" font-family="DejaVu Sans, sans-serif" font-weight="bold" font-size="4.0" fill="#ffffff">11</text>
<text x="923.50" y="297.05" text-anchor="middle" font-family="DejaVu Sans, sans-serif" font-weight="bold" font-size="4.0" fill="#ffffff">1253</text>
<text x="938.50" y="297.05" text-anchor="middle" font-family="DejaVu Sans, sans-serif" font-weight="bold" font-size="4.0" fill="#ffffff">877</text>
<text x="923.50" y="307.05" text-anchor="middle" font-family="DejaVu Sans, sans-serif" font-weight="bold" font-size="4.0" fill="#f0d0d8">2683</text>
<text x="938.50" y="307.05" text-anchor="middle" font-family="DejaVu Sans, sans-serif" font-weight="bold" font-size="4.0" fill="#e0453a">1179</text>
<text x="923.50" y="317.55" text-anchor="middle" font-family="DejaVu Sans, sans-serif" font-weight="bold" font-size="4.0" fill="#f0d0d8">557</text>
<text x="938.50" y="317.55" text-anchor="middle" font-family="DejaVu Sans, sans-serif" font-weight="bold" font-size="4.0" fill="#e0453a">472</text>
<text x="923.50" y="328.05" text-anchor="middle" font-family="DejaVu Sans, sans-serif" font-weight="bold" font-size="4.0" fill="#f0d0d8">1507</text>
<text x="938.50" y="328.05" text-anchor="middle" font-family="DejaVu Sans, sans-serif" font-weight="bold" font-size="4.0" fill="#e0453a">2570</text>
<text x="923.50" y="338.05" text-anchor="middle" font-family="DejaVu Sans, sans-serif" font-weight="bold" font-size="4.0" fill="#ffffff">922</text>
<text x="938.50" y="338.05" text-anchor="middle" font-family="DejaVu Sans, sans-serif" font-weight="bold" font-size="4.0" fill="#e0453a">1526</text>
<text x="923.50" y="348.05" text-anchor="middle" font-family="DejaVu Sans, sans-serif" font-weight="bold" font-size="4.0" fill="#2ea02e">1743</text>
<text x="938.50" y="348.05" text-anchor="middle" font-family="DejaVu Sans, sans-serif" font-weight="bold" font-size="4.0" fill="#ffffff">731</text>
<text x="923.50" y="358.05" text-anchor="middle" font-family="DejaVu Sans, sans-serif" font-weight="bold" font-size="4.0" fill="#ffffff">2892</text>
<text x="938.50" y="358.05" text-anchor="middle" font-family="DejaVu Sans, sans-serif" font-weight="bold" font-size="4.0" fill="#ffffff">103</text>
<text x="923.50" y="368.05" text-anchor="middle" font-family="DejaVu Sans, sans-serif" font-weight="bold" font-size="4.0" fill="#ffffff">2938</text>
<text x="938.50" y="368.05" text-anchor="middle" font-family="DejaVu Sans, sans-serif" font-weight="bold" font-size="4.0" fill="#ffffff">1049</text>
<text x="923.50" y="378.05" text-anchor="middle" font-family="DejaVu Sans, sans-serif" font-weight="bold" font-size="4.0" fill="#ffffff">1953</text>
<text x="938.50" y="378.05" text-anchor="middle" font-family="DejaVu Sans, sans-serif" font-weight="bold" font-size="4.0" fill="#ffffff">1791</text>
<text x="923.50" y="388.55" text-anchor="middle" font-family="DejaVu Sans, sans-serif" font-weight="bold" font-size="4.0" fill="#ffffff">1271</text>
<text x="938.50" y="388.55" text-anchor="middle" font-family="DejaVu Sans, sans-serif" font-weight="bold" font-size="4.0" fill="#ffffff">0</text>
<rect x="916.50" y="342.00" width="29" height="10.00" fill="rgb(85,130,240)" fill-opacity="0.32"/>
<text x="923.20" y="277.10" text-anchor="middle" font-family="DejaVu Sans, sans-serif" font-weight="bold" font-size="4.0" fill="#e8e8ee">0</text>
<text x="931.00" y="277.10" text-anchor="middle" font-family="DejaVu Sans, sans-serif" font-weight="bold" font-size="4.0" fill="#5a5d75" stroke="#4e5168" stroke-width="0.5">:</text>
<text x="938.70" y="277.10" text-anchor="middle" font-family="DejaVu Sans, sans-serif" font-weight="bold" font-size="4.0" fill="#e8e8ee">4</text>
<text x="931.00" y="399.10" text-anchor="middle" font-family="DejaVu Sans, sans-serif" font-size="4.0" fill="#b8382f">4511</text>
<rect x="953.00" y="280.00" width="32" height="2" fill="#bec0cc"/>
<rect x="953.00" y="392.00" width="32" height="2" fill="#bec0cc"/>
<rect x="953.00" y="280.00" width="2" height="114.00" fill="#bec0cc"/>
<rect x="983.00" y="280.00" width="2" height="114.00" fill="#bec0cc"/>
<rect x="968.00" y="281.00" width="2" height="112.00" fill="#9a9cac"/>
<rect x="968.00" y="281.00" width="2" height="101.00" fill="#28a028"/>
<text x="961.50" y="287.05" text-anchor="middle" font-family="DejaVu Sans, sans-serif" font-weight="bold" font-size="4.0" fill="#ffffff">0</text>
<text x="976.50" y="287.05" text-anchor="middle" font-family="DejaVu Sans, sans-serif" font-weight="bold" font-size="4.0" fill="#ffffff">921</text>
<text x="961.50" y="297.05" text-anchor="middle" font-family="DejaVu Sans, sans-serif" font-weight="bold" font-size="4.0" fill="#ffffff">808</text>
<text x="976.50" y="297.05" text-anchor="middle" font-family="DejaVu Sans, sans-serif" font-weight="bold" font-size="4.0" fill="#ffffff">2243</text>
<text x="961.50" y="307.05" text-anchor="middle" font-family="DejaVu Sans, sans-serif" font-weight="bold" font-size="4.0" fill="#ffffff">902</text>
<text x="976.50" y="307.05" text-anchor="middle" font-family="DejaVu Sans, sans-serif" font-weight="bold" font-size="4.0" fill="#ffffff">1161</text>
<text x="961.50" y="317.55" text-anchor="middle" font-family="DejaVu Sans, sans-serif" font-weight="bold" font-size="4.0" fill="#ffffff">517</text>
<text x="976.50" y="317.55" text-anchor="middle" font-family="DejaVu Sans, sans-serif" font-weight="bold" font-size="4.0" fill="#ffffff">5</text>
<text x="961.50" y="328.05" text-anchor="middle" font-family="DejaVu Sans, sans-serif" font-weight="bold" font-size="4.0" fill="#ffffff">536</text>
<text x="976.50" y="328.05" text-anchor="middle" font-family="DejaVu Sans, sans-serif" font-weight="bold" font-size="4.0" fill="#e0453a">1147</text>
<text x="961.50" y="338.05" text-anchor="middle" font-family="DejaVu Sans, sans-serif" font-weight="bold" font-size="4.0" fill="#ffffff">64</text>
<text x="976.50" y="338.05" text-anchor="middle" font-family="DejaVu Sans, sans-serif" font-weight="bold" font-size="4.0" fill="#ffffff">2990</text>
<text x="961.50" y="348.05" text-anchor="middle" font-family="DejaVu Sans, sans-serif" font-weight="bold" font-size="4.0" fill="#ffffff">735</text>
<text x="976.50" y="348.05" text-anchor="middle" font-family="DejaVu Sans, sans-serif" font-weight="bold" font-size="4.0" fill="#ffffff">1481</text>
<text x="961.50" y="358.05" text-anchor="middle" font-family="DejaVu Sans, sans-serif" font-weight="bold" font-size="4.0" fill="#ffffff">1248</text>
<text x="976.50" y="358.05" text-anchor="middle" font-family="DejaVu Sans, sans-serif" font-weight="bold" font-size="4.0" fill="#ffffff">1601</text>
<text x="961.50" y="368.05" text-anchor="middle" font-family="DejaVu Sans, sans-serif" font-weight="bold" font-size="4.0" fill="#ffffff">855</text>
<text x="976.50" y="368.05" text-anchor="middle" font-family="DejaVu Sans, sans-serif" font-weight="bold" font-size="4.0" fill="#ffffff">549</text>
<text x="961.50" y="378.05" text-anchor="middle" font-family="DejaVu Sans, sans-serif" font-weight="bold" font-size="4.0" fill="#ffffff">692</text>
<text x="976.50" y="378.05" text-anchor="middle" font-family="DejaVu Sans, sans-serif" font-weight="bold" font-size="4.0" fill="#ffffff">166</text>
<text x="961.50" y="388.55" text-anchor="middle" font-family="DejaVu Sans, sans-serif" font-weight="bold" font-size="4.0" fill="#ffffff">336</text>
<text x="976.50" y="388.55" text-anchor="middle" font-family="DejaVu Sans, sans-serif" font-weight="bold" font-size="4.0" fill="#ffffff">0</text>
<rect x="954.50" y="352.00" width="29" height="10.00" fill="rgb(85,130,240)" fill-opacity="0.32"/>
<text x="961.20" y="277.10" text-anchor="middle" font-family="DejaVu Sans, sans-serif" font-weight="bold" font-size="4.0" fill="#e8e8ee">0</text>
<text x="969.00" y="277.10" text-anchor="middle" font-family="DejaVu Sans, sans-serif" font-weight="bold" font-size="4.0" fill="#5a5d75" stroke="#4e5168" stroke-width="0.5">:</text>
<text x="976.70" y="277.10" text-anchor="middle" font-family="DejaVu Sans, sans-serif" font-weight="bold" font-size="4.0" fill="#e8e8ee">1</text>
<text x="969.00" y="399.10" text-anchor="middle" font-family="DejaVu Sans, sans-serif" font-size="4.0" fill="#22822a">-4152</text>
<rect x="991.00" y="361.00" width="32" height="2" fill="#bec0cc"/>
<rect x="991.00" y="402.00" width="32" height="2" fill="#bec0cc"/>
<rect x="991.00" y="361.00" width="2" height="43.00" fill="#bec0cc"/>
<rect x="1021.00" y="361.00" width="2" height="43.00" fill="#bec0cc"/>
<rect x="1006.00" y="362.00" width="2" height="41.00" fill="#9a9cac"/>
<rect x="1006.00" y="372.00" width="2" height="10.00" fill="#ffffff"/>
<text x="999.50" y="368.05" text-anchor="middle" font-family="DejaVu Sans, sans-serif" font-weight="bold" font-size="4.0" fill="#ffffff">0</text>
<text x="1014.50" y="368.05" text-anchor="middle" font-family="DejaVu Sans, sans-serif" font-weight="bold" font-size="4.0" fill="#ffffff">60</text>
<text x="999.50" y="378.05" text-anchor="middle" font-family="DejaVu Sans, sans-serif" font-weight="bold" font-size="4.0" fill="#ffffff">61</text>
<text x="1014.50" y="378.05" text-anchor="middle" font-family="DejaVu Sans, sans-serif" font-weight="bold" font-size="4.0" fill="#ffffff">1473</text>
<text x="999.50" y="388.55" text-anchor="middle" font-family="DejaVu Sans, sans-serif" font-weight="bold" font-size="4.0" fill="#ffffff">38</text>
<text x="1014.50" y="388.55" text-anchor="middle" font-family="DejaVu Sans, sans-serif" font-weight="bold" font-size="4.0" fill="#ffffff">151</text>
<text x="999.50" y="399.05" text-anchor="middle" font-family="DejaVu Sans, sans-serif" font-weight="bold" font-size="4.0" fill="#ffffff">176</text>
<text x="1014.50" y="399.05" text-anchor="middle" font-family="DejaVu Sans, sans-serif" font-weight="bold" font-size="4.0" fill="#ffffff">0</text>
<rect x="992.50" y="382.00" width="29" height="11.00" fill="rgb(85,130,240)" fill-opacity="0.32"/>
<text x="999.20" y="358.10" text-anchor="middle" font-family="DejaVu Sans, sans-serif" font-weight="bold" font-size="4.0" fill="#e8e8ee">0</text>
<text x="1007.00" y="358.10" text-anchor="middle" font-family="DejaVu Sans, sans-serif" font-weight="bold" font-size="4.0" fill="#5a5d75" stroke="#4e5168" stroke-width="0.5">:</text>
<text x="1014.70" y="358.10" text-anchor="middle" font-family="DejaVu Sans, sans-serif" font-weight="bold" font-size="4.0" fill="#e8e8ee">0</text>
<text x="1007.00" y="409.10" text-anchor="middle" font-family="DejaVu Sans, sans-serif" font-size="4.0" fill="#22822a">-1205</text>
<rect x="1029.00" y="331.00" width="32" height="2" fill="#bec0cc"/>
<rect x="1029.00" y="412.00" width="32" height="2" fill="#bec0cc"/>
<rect x="1029.00" y="331.00" width="2" height="83.00" fill="#bec0cc"/>
<rect x="1059.00" y="331.00" width="2" height="83.00" fill="#bec0cc"/>
<rect x="1044.00" y="332.00" width="2" height="81.00" fill="#9a9cac"/>
<rect x="1044.00" y="352.00" width="2" height="20.00" fill="#ee4a3a"/>
<text x="1037.50" y="338.05" text-anchor="middle" font-family="DejaVu Sans, sans-serif" font-weight="bold" font-size="4.0" fill="#ffffff">0</text>
<text x="1052.50" y="338.05" text-anchor="middle" font-family="DejaVu Sans, sans-serif" font-weight="bold" font-size="4.0" fill="#ffffff">1919</text>
<text x="1037.50" y="348.05" text-anchor="middle" font-family="DejaVu Sans, sans-serif" font-weight="bold" font-size="4.0" fill="#ffffff">2361</text>
<text x="1052.50" y="348.05" text-anchor="middle" font-family="DejaVu Sans, sans-serif" font-weight="bold" font-size="4.0" fill="#ffffff">1216</text>
<text x="1037.50" y="358.05" text-anchor="middle" font-family="DejaVu Sans, sans-serif" font-weight="bold" font-size="4.0" fill="#2ea02e">138</text>
<text x="1052.50" y="358.05" text-anchor="middle" font-family="DejaVu Sans, sans-serif" font-weight="bold" font-size="4.0" fill="#ffffff">244</text>
<text x="1037.50" y="368.05" text-anchor="middle" font-family="DejaVu Sans, sans-serif" font-weight="bold" font-size="4.0" fill="#ffffff">94</text>
<text x="1052.50" y="368.05" text-anchor="middle" font-family="DejaVu Sans, sans-serif" font-weight="bold" font-size="4.0" fill="#ffffff">1416</text>
<text x="1037.50" y="378.05" text-anchor="middle" font-family="DejaVu Sans, sans-serif" font-weight="bold" font-size="4.0" fill="#ffffff">480</text>
<text x="1052.50" y="378.05" text-anchor="middle" font-family="DejaVu Sans, sans-serif" font-weight="bold" font-size="4.0" fill="#e0453a">419</text>
<text x="1037.50" y="388.55" text-anchor="middle" font-family="DejaVu Sans, sans-serif" font-weight="bold" font-size="4.0" fill="#ffffff">595</text>
<text x="1052.50" y="388.55" text-anchor="middle" font-family="DejaVu Sans, sans-serif" font-weight="bold" font-size="4.0" fill="#ffffff">13</text>
<text x="1037.50" y="399.05" text-anchor="middle" font-family="DejaVu Sans, sans-serif" font-weight="bold" font-size="4.0" fill="#ffffff">646</text>
<text x="1052.50" y="399.05" text-anchor="middle" font-family="DejaVu Sans, sans-serif" font-weight="bold" font-size="4.0" fill="#ffffff">21</text>
<text x="1037.50" y="409.05" text-anchor="middle" font-family="DejaVu Sans, sans-serif" font-weight="bold" font-size="4.0" fill="#ffffff">2367</text>
<text x="1052.50" y="409.05" text-anchor="middle" font-family="DejaVu Sans, sans-serif" font-weight="bold" font-size="4.0" fill="#ffffff">0</text>
<rect x="1030.50" y="362.00" width="29" height="10.00" fill="rgb(85,130,240)" fill-opacity="0.32"/>
<text x="1037.20" y="328.10" text-anchor="middle" font-family="DejaVu Sans, sans-serif" font-weight="bold" font-size="4.0" fill="#e8e8ee">0</text>
<text x="1045.00" y="328.10" text-anchor="middle" font-family="DejaVu Sans, sans-serif" font-weight="bold" font-size="4.0" fill="#5a5d75" stroke="#4e5168" stroke-width="0.5">:</text>
<text x="1052.70" y="328.10" text-anchor="middle" font-family="DejaVu Sans, sans-serif" font-weight="bold" font-size="4.0" fill="#e8e8ee">0</text>
<text x="1045.00" y="419.10" text-anchor="middle" font-family="DejaVu Sans, sans-serif" font-size="4.0" fill="#22822a">-129</text>
<rect x="1067.00" y="341.00" width="32" height="2" fill="#bec0cc"/>
<rect x="1067.00" y="422.00" width="32" height="2" fill="#bec0cc"/>
<rect x="1067.00" y="341.00" width="2" height="83.00" fill="#bec0cc"/>
<rect x="1097.00" y="341.00" width="2" height="83.00" fill="#bec0cc"/>
<rect x="1082.00" y="342.00" width="2" height="81.00" fill="#9a9cac"/>
<rect x="1082.00" y="352.00" width="2" height="51.00" fill="#28a028"/>
<text x="1075.50" y="348.05" text-anchor="middle" font-family="DejaVu Sans, sans-serif" font-weight="bold" font-size="4.0" fill="#ffffff">0</text>
<text x="1090.50" y="348.05" text-anchor="middle" font-family="DejaVu Sans, sans-serif" font-weight="bold" font-size="4.0" fill="#ffffff">1639</text>
<text x="1075.50" y="358.05" text-anchor="middle" font-family="DejaVu Sans, sans-serif" font-weight="bold" font-size="4.0" fill="#ffffff">1848</text>
<text x="1090.50" y="358.05" text-anchor="middle" font-family="DejaVu Sans, sans-serif" font-weight="bold" font-size="4.0" fill="#ffffff">984</text>
<text x="1075.50" y="368.05" text-anchor="middle" font-family="DejaVu Sans, sans-serif" font-weight="bold" font-size="4.0" fill="#ffffff">1800</text>
<text x="1090.50" y="368.05" text-anchor="middle" font-family="DejaVu Sans, sans-serif" font-weight="bold" font-size="4.0" fill="#ffffff">1417</text>
<text x="1075.50" y="378.05" text-anchor="middle" font-family="DejaVu Sans, sans-serif" font-weight="bold" font-size="4.0" fill="#ffffff">216</text>
<text x="1090.50" y="378.05" text-anchor="middle" font-family="DejaVu Sans, sans-serif" font-weight="bold" font-size="4.0" fill="#ffffff">1831</text>
<text x="1075.50" y="388.55" text-anchor="middle" font-family="DejaVu Sans, sans-serif" font-weight="bold" font-size="4.0" fill="#ffffff">1266</text>
<text x="1090.50" y="388.55" text-anchor="middle" font-family="DejaVu Sans, sans-serif" font-weight="bold" font-size="4.0" fill="#ffffff">71</text>
<text x="1075.50" y="399.05" text-anchor="middle" font-family="DejaVu Sans, sans-serif" font-weight="bold" font-size="4.0" fill="#ffffff">686</text>
<text x="1090.50" y="399.05" text-anchor="middle" font-family="DejaVu Sans, sans-serif" font-weight="bold" font-size="4.0" fill="#ffffff">1759</text>
<text x="1075.50" y="409.05" text-anchor="middle" font-family="DejaVu Sans, sans-serif" font-weight="bold" font-size="4.0" fill="#ffffff">265</text>
<text x="1090.50" y="409.05" text-anchor="middle" font-family="DejaVu Sans, sans-serif" font-weight="bold" font-size="4.0" fill="#ffffff">168</text>
<text x="1075.50" y="419.05" text-anchor="middle" font-family="DejaVu Sans, sans-serif" font-weight="bold" font-size="4.0" fill="#ffffff">2980</text>
<text x="1090.50" y="419.05" text-anchor="middle" font-family="DejaVu Sans, sans-serif" font-weight="bold" font-size="4.0" fill="#ffffff">0</text>
<rect x="1068.50" y="393.00" width="29" height="10.00" fill="rgb(85,130,240)" fill-opacity="0.32"/>
<text x="1075.20" y="338.10" text-anchor="middle" font-family="DejaVu Sans, sans-serif" font-weight="bold" font-size="4.0" fill="#e8e8ee">1</text>
<text x="1083.00" y="338.10" text-anchor="middle" font-family="DejaVu Sans, sans-serif" font-weight="bold" font-size="4.0" fill="#5a5d75" stroke="#4e5168" stroke-width="0.5">:</text>
<text x="1090.70" y="338.10" text-anchor="middle" font-family="DejaVu Sans, sans-serif" font-weight="bold" font-size="4.0" fill="#e8e8ee">1</text>
<text x="1083.00" y="429.10" text-anchor="middle" font-family="DejaVu Sans, sans-serif" font-size="4.0" fill="#22822a">-1281</text>
<rect x="1105.00" y="371.00" width="32" height="2" fill="#bec0cc"/>
<rect x="1105.00" y="442.00" width="32" height="2" fill="#bec0cc"/>
<rect x="1105.00" y="371.00" width="2" height="73.00" fill="#bec0cc"/>
<rect x="1135.00" y="371.00" width="2" height="73.00" fill="#bec0cc"/>
<rect x="1120.00" y="372.00" width="2" height="71.00" fill="#9a9cac"/>
<rect x="1120.00" y="382.00" width="2" height="51.00" fill="#28a028"/>
<text x="1113.50" y="378.05" text-anchor="middle" font-family="DejaVu Sans, sans-serif" font-weight="bold" font-size="4.0" fill="#ffffff">0</text>
<text x="1128.50" y="378.05" text-anchor="middle" font-family="DejaVu Sans, sans-serif" font-weight="bold" font-size="4.0" fill="#ffffff">957</text>
<text x="1113.50" y="388.55" text-anchor="middle" font-family="DejaVu Sans, sans-serif" font-weight="bold" font-size="4.0" fill="#ffffff">1988</text>
<text x="1128.50" y="388.55" text-anchor="middle" font-family="DejaVu Sans, sans-serif" font-weight="bold" font-size="4.0" fill="#ffffff">722</text>
<text x="1113.50" y="399.05" text-anchor="middle" font-family="DejaVu Sans, sans-serif" font-weight="bold" font-size="4.0" fill="#ffffff">2270</text>
<text x="1128.50" y="399.05" text-anchor="middle" font-family="DejaVu Sans, sans-serif" font-weight="bold" font-size="4.0" fill="#ffffff">2825</text>
<text x="1113.50" y="409.05" text-anchor="middle" font-family="DejaVu Sans, sans-serif" font-weight="bold" font-size="4.0" fill="#ffffff">514</text>
<text x="1128.50" y="409.05" text-anchor="middle" font-family="DejaVu Sans, sans-serif" font-weight="bold" font-size="4.0" fill="#ffffff">1401</text>
<text x="1113.50" y="419.05" text-anchor="middle" font-family="DejaVu Sans, sans-serif" font-weight="bold" font-size="4.0" fill="#ffffff">509</text>
<text x="1128.50" y="419.05" text-anchor="middle" font-family="DejaVu Sans, sans-serif" font-weight="bold" font-size="4.0" fill="#ffffff">1320</text>
<text x="1113.50" y="429.05" text-anchor="middle" font-family="DejaVu Sans, sans-serif" font-weight="bold" font-size="4.0" fill="#2ea02e">842</text>
<text x="1128.50" y="429.05" text-anchor="middle" font-family="DejaVu Sans, sans-serif" font-weight="bold" font-size="4.0" fill="#ffffff">1394</text>
<text x="1113.50" y="439.05" text-anchor="middle" font-family="DejaVu Sans, sans-serif" font-weight="bold" font-size="4.0" fill="#ffffff">1078</text>
<text x="1128.50" y="439.05" text-anchor="middle" font-family="DejaVu Sans, sans-serif" font-weight="bold" font-size="4.0" fill="#ffffff">0</text>
<rect x="1106.50" y="413.00" width="29" height="10.00" fill="rgb(85,130,240)" fill-opacity="0.32"/>
<text x="1113.20" y="368.10" text-anchor="middle" font-family="DejaVu Sans, sans-serif" font-weight="bold" font-size="4.0" fill="#e8e8ee">2</text>
<text x="1121.00" y="368.10" text-anchor="middle" font-family="DejaVu Sans, sans-serif" font-weight="bold" font-size="4.0" fill="#5a5d75" stroke="#4e5168" stroke-width="0.5">:</text>
<text x="1128.70" y="368.10" text-anchor="middle" font-family="DejaVu Sans, sans-serif" font-weight="bold" font-size="4.0" fill="#e8e8ee">0</text>
<text x="1121.00" y="449.10" text-anchor="middle" font-family="DejaVu Sans, sans-serif" font-size="4.0" fill="#22822a">-1249</text>
<rect x="1143.00" y="402.00" width="32" height="2" fill="#bec0cc"/>
<rect x="1143.00" y="452.00" width="32" height="2" fill="#bec0cc"/>
<rect x="1143.00" y="402.00" width="2" height="52.00" fill="#bec0cc"/>
<rect x="1173.00" y="402.00" width="2" height="52.00" fill="#bec0cc"/>
<rect x="1158.00" y="403.00" width="2" height="50.00" fill="#9a9cac"/>
<rect x="1158.00" y="413.00" width="2" height="20.00" fill="#ee4a3a"/>
<text x="1151.50" y="409.05" text-anchor="middle" font-family="DejaVu Sans, sans-serif" font-weight="bold" font-size="4.0" fill="#ffffff">0</text>
<text x="1166.50" y="409.05" text-anchor="middle" font-family="DejaVu Sans, sans-serif" font-weight="bold" font-size="4.0" fill="#ffffff">499</text>
<text x="1151.50" y="419.05" text-anchor="middle" font-family="DejaVu Sans, sans-serif" font-weight="bold" font-size="4.0" fill="#ffffff">742</text>
<text x="1166.50" y="419.05" text-anchor="middle" font-family="DejaVu Sans, sans-serif" font-weight="bold" font-size="4.0" fill="#ffffff">2329</text>
<text x="1151.50" y="429.05" text-anchor="middle" font-family="DejaVu Sans, sans-serif" font-weight="bold" font-size="4.0" fill="#ffffff">774</text>
<text x="1166.50" y="429.05" text-anchor="middle" font-family="DejaVu Sans, sans-serif" font-weight="bold" font-size="4.0" fill="#e0453a">615</text>
<text x="1151.50" y="439.05" text-anchor="middle" font-family="DejaVu Sans, sans-serif" font-weight="bold" font-size="4.0" fill="#ffffff">2002</text>
<text x="1166.50" y="439.05" text-anchor="middle" font-family="DejaVu Sans, sans-serif" font-weight="bold" font-size="4.0" fill="#ffffff">557</text>
<text x="1151.50" y="449.05" text-anchor="middle" font-family="DejaVu Sans, sans-serif" font-weight="bold" font-size="4.0" fill="#ffffff">283</text>
<text x="1166.50" y="449.05" text-anchor="middle" font-family="DejaVu Sans, sans-serif" font-weight="bold" font-size="4.0" fill="#ffffff">0</text>
<rect x="1144.50" y="423.00" width="29" height="10.00" fill="rgb(85,130,240)" fill-opacity="0.32"/>
<text x="1151.20" y="399.10" text-anchor="middle" font-family="DejaVu Sans, sans-serif" font-weight="bold" font-size="4.0" fill="#e8e8ee">0</text>
<text x="1159.00" y="399.10" text-anchor="middle" font-family="DejaVu Sans, sans-serif" font-weight="bold" font-size="4.0" fill="#5a5d75" stroke="#4e5168" stroke-width="0.5">:</text>
<text x="1166.70" y="399.10" text-anchor="middle" font-family="DejaVu Sans, sans-serif" font-weight="bold" font-size="4.0" fill="#e8e8ee">0</text>
<text x="1159.00" y="459.10" text-anchor="middle" font-family="DejaVu Sans, sans-serif" font-size="4.0" fill="#22822a">-856</text>
<rect x="1180.00" y="371.00" width="32" height="2" fill="#bec0cc"/>
<rect x="1180.00" y="432.00" width="32" height="2" fill="#bec0cc"/>
<rect x="1180.00" y="371.00" width="2" height="63.00" fill="#bec0cc"/>
<rect x="1210.00" y="371.00" width="2" height="63.00" fill="#bec0cc"/>
<rect x="1195.00" y="372.00" width="2" height="61.00" fill="#9a9cac"/>
<rect x="1195.00" y="382.00" width="2" height="51.00" fill="#ee4a3a"/>
<text x="1188.50" y="378.05" text-anchor="middle" font-family="DejaVu Sans, sans-serif" font-weight="bold" font-size="4.0" fill="#ffffff">0</text>
<text x="1203.50" y="378.05" text-anchor="middle" font-family="DejaVu Sans, sans-serif" font-weight="bold" font-size="4.0" fill="#ffffff">168</text>
<text x="1188.50" y="388.55" text-anchor="middle" font-family="DejaVu Sans, sans-serif" font-weight="bold" font-size="4.0" fill="#ffffff">193</text>
<text x="1203.50" y="388.55" text-anchor="middle" font-family="DejaVu Sans, sans-serif" font-weight="bold" font-size="4.0" fill="#e0453a">2032</text>
<text x="1188.50" y="399.05" text-anchor="middle" font-family="DejaVu Sans, sans-serif" font-weight="bold" font-size="4.0" fill="#ffffff">1168</text>
<text x="1203.50" y="399.05" text-anchor="middle" font-family="DejaVu Sans, sans-serif" font-weight="bold" font-size="4.0" fill="#ffffff">1642</text>
<text x="1188.50" y="409.05" text-anchor="middle" font-family="DejaVu Sans, sans-serif" font-weight="bold" font-size="4.0" fill="#ffffff">65</text>
<text x="1203.50" y="409.05" text-anchor="middle" font-family="DejaVu Sans, sans-serif" font-weight="bold" font-size="4.0" fill="#ffffff">2336</text>
<text x="1188.50" y="419.05" text-anchor="middle" font-family="DejaVu Sans, sans-serif" font-weight="bold" font-size="4.0" fill="#ffffff">2257</text>
<text x="1203.50" y="419.05" text-anchor="middle" font-family="DejaVu Sans, sans-serif" font-weight="bold" font-size="4.0" fill="#ffffff">2669</text>
<text x="1188.50" y="429.05" text-anchor="middle" font-family="DejaVu Sans, sans-serif" font-weight="bold" font-size="4.0" fill="#ffffff">1589</text>
<text x="1203.50" y="429.05" text-anchor="middle" font-family="DejaVu Sans, sans-serif" font-weight="bold" font-size="4.0" fill="#ffffff">0</text>
<rect x="1181.50" y="393.00" width="29" height="10.00" fill="rgb(85,130,240)" fill-opacity="0.32"/>
<text x="1188.20" y="368.10" text-anchor="middle" font-family="DejaVu Sans, sans-serif" font-weight="bold" font-size="4.0" fill="#e8e8ee">0</text>
<text x="1196.00" y="368.10" text-anchor="middle" font-family="DejaVu Sans, sans-serif" font-weight="bold" font-size="4.0" fill="#5a5d75" stroke="#4e5168" stroke-width="0.5">:</text>
<text x="1203.70" y="368.10" text-anchor="middle" font-family="DejaVu Sans, sans-serif" font-weight="bold" font-size="4.0" fill="#e8e8ee">6</text>
<text x="1196.00" y="439.10" text-anchor="middle" font-family="DejaVu Sans, sans-serif" font-size="4.0" fill="#b8382f">1062</text>
<rect x="1218.00" y="371.00" width="32" height="2" fill="#bec0cc"/>
<rect x="1218.00" y="402.00" width="32" height="2" fill="#bec0cc"/>
<rect x="1218.00" y="371.00" width="2" height="33.00" fill="#bec0cc"/>
<rect x="1248.00" y="371.00" width="2" height="33.00" fill="#bec0cc"/>
<rect x="1233.00" y="372.00" width="2" height="31.00" fill="#9a9cac"/>
<rect x="1233.00" y="382.00" width="2" height="21.00" fill="#28a028"/>
<text x="1226.50" y="378.05" text-anchor="middle" font-family="DejaVu Sans, sans-serif" font-weight="bold" font-size="4.0" fill="#ffffff">0</text>
<text x="1241.50" y="378.05" text-anchor="middle" font-family="DejaVu Sans, sans-serif" font-weight="bold" font-size="4.0" fill="#ffffff">1338</text>
<text x="1226.50" y="388.55" text-anchor="middle" font-family="DejaVu Sans, sans-serif" font-weight="bold" font-size="4.0" fill="#ffffff">1452</text>
<text x="1241.50" y="388.55" text-anchor="middle" font-family="DejaVu Sans, sans-serif" font-weight="bold" font-size="4.0" fill="#ffffff">45</text>
<text x="1226.50" y="399.05" text-anchor="middle" font-family="DejaVu Sans, sans-serif" font-weight="bold" font-size="4.0" fill="#ffffff">728</text>
<text x="1241.50" y="399.05" text-anchor="middle" font-family="DejaVu Sans, sans-serif" font-weight="bold" font-size="4.0" fill="#ffffff">0</text>
<rect x="1219.50" y="382.00" width="29" height="11.00" fill="rgb(85,130,240)" fill-opacity="0.32"/>
<text x="1226.20" y="368.10" text-anchor="middle" font-family="DejaVu Sans, sans-serif" font-weight="bold" font-size="4.0" fill="#e8e8ee">0</text>
<text x="1234.00" y="368.10" text-anchor="middle" font-family="DejaVu Sans, sans-serif" font-weight="bold" font-size="4.0" fill="#5a5d75" stroke="#4e5168" stroke-width="0.5">:</text>
<text x="1241.70" y="368.10" text-anchor="middle" font-family="DejaVu Sans, sans-serif" font-weight="bold" font-size="4.0" fill="#e8e8ee">0</text>
<text x="1234.00" y="409.10" text-anchor="middle" font-family="DejaVu Sans, sans-serif" font-size="4.0" fill="#22822a">-122</text>
<rect x="1256.00" y="381.00" width="32" height="2" fill="#bec0cc"/>
<rect x="1256.00" y="412.00" width="32" height="2" fill="#bec0cc"/>
<rect x="1256.00" y="381.00" width="2" height="33.00" fill="#bec0cc"/>
<rect x="1286.00" y="381.00" width="2" height="33.00" fill="#bec0cc"/>
<rect x="1271.00" y="382.00" width="2" height="31.00" fill="#9a9cac"/>
<rect x="1271.00" y="393.00" width="2" height="10.00" fill="#ffffff"/>
<text x="1264.50" y="388.55" text-anchor="middle" font-family="DejaVu Sans, sans-serif" font-weight="bold" font-size="4.0" fill="#ffffff">0</text>
<text x="1279.50" y="388.55" text-anchor="middle" font-family="DejaVu Sans, sans-serif" font-weight="bold" font-size="4.0" fill="#ffffff">1294</text>
<text x="1264.50" y="399.05" text-anchor="middle" font-family="DejaVu Sans, sans-serif" font-weight="bold" font-size="4.0" fill="#ffffff">1983</text>
<text x="1279.50" y="399.05" text-anchor="middle" font-family="DejaVu Sans, sans-serif" font-weight="bold" font-size="4.0" fill="#ffffff">369</text>
<text x="1264.50" y="409.05" text-anchor="middle" font-family="DejaVu Sans, sans-serif" font-weight="bold" font-size="4.0" fill="#ffffff">303</text>
<text x="1279.50" y="409.05" text-anchor="middle" font-family="DejaVu Sans, sans-serif" font-weight="bold" font-size="4.0" fill="#ffffff">0</text>
<rect x="1257.50" y="393.00" width="29" height="10.00" fill="rgb(85,130,240)" fill-opacity="0.32"/>
<text x="1264.20" y="378.10" text-anchor="middle" font-family="DejaVu Sans, sans-serif" font-weight="bold" font-size="4.0" fill="#e8e8ee">0</text>
<text x="1272.00" y="378.10" text-anchor="middle" font-family="DejaVu Sans, sans-serif" font-weight="bold" font-size="4.0" fill="#5a5d75" stroke="#4e5168" stroke-width="0.5">:</text>
<text x="1279.70" y="378.10" text-anchor="middle" font-family="DejaVu Sans, sans-serif" font-weight="bold" font-size="4.0" fill="#e8e8ee">1</text>
<text x="1272.00" y="419.10" text-anchor="middle" font-family="DejaVu Sans, sans-serif" font-size="4.0" fill="#22822a">-265</text>
<rect x="1294.00" y="371.00" width="32" height="2" fill="#bec0cc"/>
<rect x="1294.00" y="422.00" width="32" height="2" fill="#bec0cc"/>
<rect x="1294.00" y="371.00" width="2" height="53.00" fill="#bec0cc"/>
<rect x="1324.00" y="371.00" width="2" height="53.00" fill="#bec0cc"/>
<rect x="1309.00" y="372.00" width="2" height="51.00" fill="#9a9cac"/>
<rect x="1309.00" y="393.00" width="2" height="10.00" fill="#ffffff"/>
<text x="1302.50" y="378.05" text-anchor="middle" font-family="DejaVu Sans, sans-serif" font-weight="bold" font-size="4.0" fill="#ffffff">0</text>
<text x="1317.50" y="378.05" text-anchor="middle" font-family="DejaVu Sans, sans-serif" font-weight="bold" font-size="4.0" fill="#ffffff">384</text>
<text x="1302.50" y="388.55" text-anchor="middle" font-family="DejaVu Sans, sans-serif" font-weight="bold" font-size="4.0" fill="#ffffff">1345</text>
<text x="1317.50" y="388.55" text-anchor="middle" font-family="DejaVu Sans, sans-serif" font-weight="bold" font-size="4.0" fill="#ffffff">1541</text>
<text x="1302.50" y="399.05" text-anchor="middle" font-family="DejaVu Sans, sans-serif" font-weight="bold" font-size="4.0" fill="#ffffff">1736</text>
<text x="1317.50" y="399.05" text-anchor="middle" font-family="DejaVu Sans, sans-serif" font-weight="bold" font-size="4.0" fill="#ffffff">1927</text>
<text x="1302.50" y="409.05" text-anchor="middle" font-family="DejaVu Sans, sans-serif" font-weight="bold" font-size="4.0" fill="#ffffff">1214</text>
<text x="1317.50" y="409.05" text-anchor="middle" font-family="DejaVu Sans, sans-serif" font-weight="bold" font-size="4.0" fill="#ffffff">648</text>
<text x="1302.50" y="419.05" text-anchor="middle" font-family="DejaVu Sans, sans-serif" font-weight="bold" font-size="4.0" fill="#ffffff">1542</text>
<text x="1317.50" y="419.05" text-anchor="middle" font-family="DejaVu Sans, sans-serif" font-weight="bold" font-size="4.0" fill="#ffffff">0</text>
<rect x="1295.50" y="403.00" width="29" height="10.00" fill="rgb(85,130,240)" fill-opacity="0.32"/>
<text x="1302.20" y="368.10" text-anchor="middle" font-family="DejaVu Sans, sans-serif" font-weight="bold" font-size="4.0" fill="#e8e8ee">0</text>
<text x="1310.00" y="368.10" text-anchor="middle" font-family="DejaVu Sans, sans-serif" font-weight="bold" font-size="4.0" fill="#5a5d75" stroke="#4e5168" stroke-width="0.5">:</text>
<text x="1317.70" y="368.10" text-anchor="middle" font-family="DejaVu Sans, sans-serif" font-weight="bold" font-size="4.0" fill="#e8e8ee">0</text>
<text x="1310.00" y="429.10" text-anchor="middle" font-family="DejaVu Sans, sans-serif" font-size="4.0" fill="#22822a">-156</text>
<rect x="1332.00" y="351.00" width="32" height="2" fill="#bec0cc"/>
<rect x="1332.00" y="412.00" width="32" height="2" fill="#bec0cc"/>
<rect x="1332.00" y="351.00" width="2" height="63.00" fill="#bec0cc"/>
<rect x="1362.00" y="351.00" width="2" height="63.00" fill="#bec0cc"/>
<rect x="1347.00" y="352.00" width="2" height="61.00" fill="#9a9cac"/>
<rect x="1347.00" y="372.00" width="2" height="41.00" fill="#ee4a3a"/>
<text x="1340.50" y="358.05" text-anchor="middle" font-family="DejaVu Sans, sans-serif" font-weight="bold" font-size="4.0" fill="#ffffff">0</text>
<text x="1355.50" y="358.05" text-anchor="middle" font-family="DejaVu Sans, sans-serif" font-weight="bold" font-size="4.0" fill="#ffffff">249</text>
<text x="1340.50" y="368.05" text-anchor="middle" font-family="DejaVu Sans, sans-serif" font-weight="bold" font-size="4.0" fill="#ffffff">1905</text>
<text x="1355.50" y="368.05" text-anchor="middle" font-family="DejaVu Sans, sans-serif" font-weight="bold" font-size="4.0" fill="#e0453a">730</text>
<text x="1340.50" y="378.05" text-anchor="middle" font-family="DejaVu Sans, sans-serif" font-weight="bold" font-size="4.0" fill="#ffffff">1519</text>
<text x="1355.50" y="378.05" text-anchor="middle" font-family="DejaVu Sans, sans-serif" font-weight="bold" font-size="4.0" fill="#e0453a">991</text>
<text x="1340.50" y="388.55" text-anchor="middle" font-family="DejaVu Sans, sans-serif" font-weight="bold" font-size="4.0" fill="#ffffff">101</text>
<text x="1355.50" y="388.55" text-anchor="middle" font-family="DejaVu Sans, sans-serif" font-weight="bold" font-size="4.0" fill="#e0453a">1453</text>
<text x="1340.50" y="399.05" text-anchor="middle" font-family="DejaVu Sans, sans-serif" font-weight="bold" font-size="4.0" fill="#ffffff">624</text>
<text x="1355.50" y="399.05" text-anchor="middle" font-family="DejaVu Sans, sans-serif" font-weight="bold" font-size="4.0" fill="#e0453a">148</text>
<text x="1340.50" y="409.05" text-anchor="middle" font-family="DejaVu Sans, sans-serif" font-weight="bold" font-size="4.0" fill="#2ea02e">1045</text>
<text x="1355.50" y="409.05" text-anchor="middle" font-family="DejaVu Sans, sans-serif" font-weight="bold" font-size="4.0" fill="#ffffff">0</text>
<rect x="1333.50" y="362.00" width="29" height="10.00" fill="rgb(85,130,240)" fill-opacity="0.32"/>
<text x="1340.20" y="348.10" text-anchor="middle" font-family="DejaVu Sans, sans-serif" font-weight="bold" font-size="4.0" fill="#e8e8ee">0</text>
<text x="1348.00" y="348.10" text-anchor="middle" font-family="DejaVu Sans, sans-serif" font-weight="bold" font-size="4.0" fill="#5a5d75" stroke="#4e5168" stroke-width="0.5">:</text>
<text x="1355.70" y="348.10" text-anchor="middle" font-family="DejaVu Sans, sans-serif" font-weight="bold" font-size="4.0" fill="#e8e8ee">4</text>
<text x="1348.00" y="419.10" text-anchor="middle" font-family="DejaVu Sans, sans-serif" font-size="4.0" fill="#b8382f">2060</text>
<rect x="1370.00" y="341.00" width="32" height="2" fill="#bec0cc"/>
<rect x="1370.00" y="392.00" width="32" height="2" fill="#bec0cc"/>
<rect x="1370.00" y="341.00" width="2" height="53.00" fill="#bec0cc"/>
<rect x="1400.00" y="341.00" width="2" height="53.00" fill="#bec0cc"/>
<rect x="1385.00" y="342.00" width="2" height="51.00" fill="#9a9cac"/>
<rect x="1385.00" y="342.00" width="2" height="40.00" fill="#ee4a3a"/>
<text x="1378.50" y="348.05" text-anchor="middle" font-family="DejaVu Sans, sans-serif" font-weight="bold" font-size="4.0" fill="#ffffff">0</text>
<text x="1393.50" y="348.05" text-anchor="middle" font-family="DejaVu Sans, sans-serif" font-weight="bold" font-size="4.0" fill="#ffffff">411</text>
<text x="1378.50" y="358.05" text-anchor="middle" font-family="DejaVu Sans, sans-serif" font-weight="bold" font-size="4.0" fill="#ffffff">329</text>
<text x="1393.50" y="358.05" text-anchor="middle" font-family="DejaVu Sans, sans-serif" font-weight="bold" font-size="4.0" fill="#ffffff">408</text>
<text x="1378.50" y="368.05" text-anchor="middle" font-family="DejaVu Sans, sans-serif" font-weight="bold" font-size="4.0" fill="#ffffff">1972</text>
<text x="1393.50" y="368.05" text-anchor="middle" font-family="DejaVu Sans, sans-serif" font-weight="bold" font-size="4.0" fill="#ffffff">114</text>
<text x="1378.50" y="378.05" text-anchor="middle" font-family="DejaVu Sans, sans-serif" font-weight="bold" font-size="4.0" fill="#ffffff">13</text>
<text x="1393.50" y="378.05" text-anchor="middle" font-family="DejaVu Sans, sans-serif" font-weight="bold" font-size="4.0" fill="#ffffff">19</text>
<text x="1378.50" y="388.55" text-anchor="middle" font-family="DejaVu Sans, sans-serif" font-weight="bold" font-size="4.0" fill="#ffffff">370</text>
<text x="1393.50" y="388.55" text-anchor="middle" font-family="DejaVu Sans, sans-serif" font-weight="bold" font-size="4.0" fill="#ffffff">0</text>
<rect x="1371.50" y="352.00" width="29" height="10.00" fill="rgb(85,130,240)" fill-opacity="0.32"/>
<text x="1378.20" y="338.10" text-anchor="middle" font-family="DejaVu Sans, sans-serif" font-weight="bold" font-size="4.0" fill="#e8e8ee">0</text>
<text x="1386.00" y="338.10" text-anchor="middle" font-family="DejaVu Sans, sans-serif" font-weight="bold" font-size="4.0" fill="#5a5d75" stroke="#4e5168" stroke-width="0.5">:</text>
<text x="1393.70" y="338.10" text-anchor="middle" font-family="DejaVu Sans, sans-serif" font-weight="bold" font-size="4.0" fill="#e8e8ee">2</text>
<text x="1386.00" y="399.10" text-anchor="middle" font-family="DejaVu Sans, sans-serif" font-size="4.0" fill="#b8382f">756</text>
<rect x="1408.00" y="280.00" width="32" height="2" fill="#bec0cc"/>
<rect x="1408.00" y="371.00" width="32" height="2" fill="#bec0cc"/>
<rect x="1408.00" y="280.00" width="2" height="93.00" fill="#bec0cc"/>
<rect x="1438.00" y="280.00" width="2" height="93.00" fill="#bec0cc"/>
<rect x="1423.00" y="281.00" width="2" height="91.00" fill="#9a9cac"/>
<rect x="1423.00" y="291.00" width="2" height="71.00" fill="#ee4a3a"/>
<text x="1416.50" y="287.05" text-anchor="middle" font-family="DejaVu Sans, sans-serif" font-weight="bold" font-size="4.0" fill="#ffffff">0</text>
<text x="1431.50" y="287.05" text-anchor="middle" font-family="DejaVu Sans, sans-serif" font-weight="bold" font-size="4.0" fill="#ffffff">72</text>
<text x="1416.50" y="297.05" text-anchor="middle" font-family="DejaVu Sans, sans-serif" font-weight="bold" font-size="4.0" fill="#ffffff">692</text>
<text x="1431.50" y="297.05" text-anchor="middle" font-family="DejaVu Sans, sans-serif" font-weight="bold" font-size="4.0" fill="#ffffff">630</text>
<text x="1416.50" y="307.05" text-anchor="middle" font-family="DejaVu Sans, sans-serif" font-weight="bold" font-size="4.0" fill="#ffffff">1090</text>
<text x="1431.50" y="307.05" text-anchor="middle" font-family="DejaVu Sans, sans-serif" font-weight="bold" font-size="4.0" fill="#ffffff">4</text>
<text x="1416.50" y="317.55" text-anchor="middle" font-family="DejaVu Sans, sans-serif" font-weight="bold" font-size="4.0" fill="#ffffff">14</text>
<text x="1431.50" y="317.55" text-anchor="middle" font-family="DejaVu Sans, sans-serif" font-weight="bold" font-size="4.0" fill="#e0453a">71</text>
<text x="1416.50" y="328.05" text-anchor="middle" font-family="DejaVu Sans, sans-serif" font-weight="bold" font-size="4.0" fill="#ffffff">630</text>
<text x="1431.50" y="328.05" text-anchor="middle" font-family="DejaVu Sans, sans-serif" font-weight="bold" font-size="4.0" fill="#e0453a">2038</text>
<text x="1416.50" y="338.05" text-anchor="middle" font-family="DejaVu Sans, sans-serif" font-weight="bold" font-size="4.0" fill="#ffffff">2041</text>
<text x="1431.50" y="338.05" text-anchor="middle" font-family="DejaVu Sans, sans-serif" font-weight="bold" font-size="4.0" fill="#e0453a">407</text>
<text x="1416.50" y="348.05" text-anchor="middle" font-family="DejaVu Sans, sans-serif" font-weight="bold" font-size="4.0" fill="#ffffff">1978</text>
<text x="1431.50" y="348.05" text-anchor="middle" font-family="DejaVu Sans, sans-serif" font-weight="bold" font-size="4.0" fill="#ffffff">1013</text>
<text x="1416.50" y="358.05" text-anchor="middle" font-family="DejaVu Sans, sans-serif" font-weight="bold" font-size="4.0" fill="#ffffff">1164</text>
<text x="1431.50" y="358.05" text-anchor="middle" font-family="DejaVu Sans, sans-serif" font-weight="bold" font-size="4.0" fill="#ffffff">1926</text>
<text x="1416.50" y="368.05" text-anchor="middle" font-family="DejaVu Sans, sans-serif" font-weight="bold" font-size="4.0" fill="#2ea02e">759</text>
<text x="1431.50" y="368.05" text-anchor="middle" font-family="DejaVu Sans, sans-serif" font-weight="bold" font-size="4.0" fill="#ffffff">0</text>
<rect x="1409.50" y="322.00" width="29" height="10.00" fill="rgb(85,130,240)" fill-opacity="0.32"/>
<text x="1416.20" y="277.10" text-anchor="middle" font-family="DejaVu Sans, sans-serif" font-weight="bold" font-size="4.0" fill="#e8e8ee">0</text>
<text x="1424.00" y="277.10" text-anchor="middle" font-family="DejaVu Sans, sans-serif" font-weight="bold" font-size="4.0" fill="#5a5d75" stroke="#4e5168" stroke-width="0.5">:</text>
<text x="1431.70" y="277.10" text-anchor="middle" font-family="DejaVu Sans, sans-serif" font-weight="bold" font-size="4.0" fill="#e8e8ee">8</text>
<text x="1424.00" y="378.10" text-anchor="middle" font-family="DejaVu Sans, sans-serif" font-size="4.0" fill="#b8382f">1661</text>
<rect x="1446.00" y="189.00" width="32" height="2" fill="#bec0cc"/>
<rect x="1446.00" y="300.00" width="32" height="2" fill="#bec0cc"/>
<rect x="1446.00" y="189.00" width="2" height="113.00" fill="#bec0cc"/>
<rect x="1476.00" y="189.00" width="2" height="113.00" fill="#bec0cc"/>
<rect x="1461.00" y="190.00" width="2" height="111.00" fill="#9a9cac"/>
<rect x="1461.00" y="200.00" width="2" height="91.00" fill="#ee4a3a"/>
<text x="1454.50" y="196.05" text-anchor="middle" font-family="DejaVu Sans, sans-serif" font-weight="bold" font-size="4.0" fill="#ffffff">0</text>
<text x="1469.50" y="196.05" text-anchor="middle" font-family="DejaVu Sans, sans-serif" font-weight="bold" font-size="4.0" fill="#ffffff">867</text>
<text x="1454.50" y="206.05" text-anchor="middle" font-family="DejaVu Sans, sans-serif" font-weight="bold" font-size="4.0" fill="#ffffff">1539</text>
<text x="1469.50" y="206.05" text-anchor="middle" font-family="DejaVu Sans, sans-serif" font-weight="bold" font-size="4.0" fill="#ffffff">1544</text>
<text x="1454.50" y="216.05" text-anchor="middle" font-family="DejaVu Sans, sans-serif" font-weight="bold" font-size="4.0" fill="#ffffff">2878</text>
<text x="1469.50" y="216.05" text-anchor="middle" font-family="DejaVu Sans, sans-serif" font-weight="bold" font-size="4.0" fill="#ffffff">371</text>
<text x="1454.50" y="226.05" text-anchor="middle" font-family="DejaVu Sans, sans-serif" font-weight="bold" font-size="4.0" fill="#ffffff">1174</text>
<text x="1469.50" y="226.05" text-anchor="middle" font-family="DejaVu Sans, sans-serif" font-weight="bold" font-size="4.0" fill="#ffffff">1031</text>
<text x="1454.50" y="236.05" text-anchor="middle" font-family="DejaVu Sans, sans-serif" font-weight="bold" font-size="4.0" fill="#ffffff">1415</text>
<text x="1469.50" y="236.05" text-anchor="middle" font-family="DejaVu Sans, sans-serif" font-weight="bold" font-size="4.0" fill="#ffffff">2528</text>
<text x="1454.50" y="246.55" text-anchor="middle" font-family="DejaVu Sans, sans-serif" font-weight="bold" font-size="4.0" fill="#ffffff">715</text>
<text x="1469.50" y="246.55" text-anchor="middle" font-family="DejaVu Sans, sans-serif" font-weight="bold" font-size="4.0" fill="#ffffff">972</text>
<text x="1454.50" y="257.05" text-anchor="middle" font-family="DejaVu Sans, sans-serif" font-weight="bold" font-size="4.0" fill="#ffffff">2098</text>
<text x="1469.50" y="257.05" text-anchor="middle" font-family="DejaVu Sans, sans-serif" font-weight="bold" font-size="4.0" fill="#e0453a">959</text>
<text x="1454.50" y="267.05" text-anchor="middle" font-family="DejaVu Sans, sans-serif" font-weight="bold" font-size="4.0" fill="#ffffff">93</text>
<text x="1469.50" y="267.05" text-anchor="middle" font-family="DejaVu Sans, sans-serif" font-weight="bold" font-size="4.0" fill="#ffffff">415</text>
<text x="1454.50" y="277.05" text-anchor="middle" font-family="DejaVu Sans, sans-serif" font-weight="bold" font-size="4.0" fill="#2ea02e">678</text>
<text x="1469.50" y="277.05" text-anchor="middle" font-family="DejaVu Sans, sans-serif" font-weight="bold" font-size="4.0" fill="#ffffff">1296</text>
<text x="1454.50" y="287.05" text-anchor="middle" font-family="DejaVu Sans, sans-serif" font-weight="bold" font-size="4.0" fill="#ffffff">1331</text>
<text x="1469.50" y="287.05" text-anchor="middle" font-family="DejaVu Sans, sans-serif" font-weight="bold" font-size="4.0" fill="#e0453a">245</text>
<text x="1454.50" y="297.05" text-anchor="middle" font-family="DejaVu Sans, sans-serif" font-weight="bold" font-size="4.0" fill="#ffffff">83</text>
<text x="1469.50" y="297.05" text-anchor="middle" font-family="DejaVu Sans, sans-serif" font-weight="bold" font-size="4.0" fill="#ffffff">0</text>
<rect x="1447.50" y="240.00" width="29" height="11.00" fill="rgb(85,130,240)" fill-opacity="0.32"/>
<text x="1454.20" y="186.10" text-anchor="middle" font-family="DejaVu Sans, sans-serif" font-weight="bold" font-size="4.0" fill="#e8e8ee">0</text>
<text x="1462.00" y="186.10" text-anchor="middle" font-family="DejaVu Sans, sans-serif" font-weight="bold" font-size="4.0" fill="#5a5d75" stroke="#4e5168" stroke-width="0.5">:</text>
<text x="1469.70" y="186.10" text-anchor="middle" font-family="DejaVu Sans, sans-serif" font-weight="bold" font-size="4.0" fill="#e8e8ee">0</text>
<text x="1462.00" y="307.10" text-anchor="middle" font-family="DejaVu Sans, sans-serif" font-size="4.0" fill="#b8382f">2474</text>
<rect x="1483.00" y="199.00" width="32" height="2" fill="#bec0cc"/>
<rect x="1483.00" y="290.00" width="32" height="2" fill="#bec0cc"/>
<rect x="1483.00" y="199.00" width="2" height="93.00" fill="#bec0cc"/>
<rect x="1513.00" y="199.00" width="2" height="93.00" fill="#bec0cc"/>
<rect x="1498.00" y="200.00" width="2" height="91.00" fill="#9a9cac"/>
<rect x="1498.00" y="210.00" width="2" height="81.00" fill="#28a028"/>
<text x="1491.50" y="206.05" text-anchor="middle" font-family="DejaVu Sans, sans-serif" font-weight="bold" font-size="4.0" fill="#ffffff">0</text>
<text x="1506.50" y="206.05" text-anchor="middle" font-family="DejaVu Sans, sans-serif" font-weight="bold" font-size="4.0" fill="#e0453a">2508</text>
<text x="1491.50" y="216.05" text-anchor="middle" font-family="DejaVu Sans, sans-serif" font-weight="bold" font-size="4.0" fill="#ffffff">2560</text>
<text x="1506.50" y="216.05" text-anchor="middle" font-family="DejaVu Sans, sans-serif" font-weight="bold" font-size="4.0" fill="#ffffff">937</text>
<text x="1491.50" y="226.05" text-anchor="middle" font-family="DejaVu Sans, sans-serif" font-weight="bold" font-size="4.0" fill="#ffffff">2801</text>
<text x="1506.50" y="226.05" text-anchor="middle" font-family="DejaVu Sans, sans-serif" font-weight="bold" font-size="4.0" fill="#ffffff">2872</text>
<text x="1491.50" y="236.05" text-anchor="middle" font-family="DejaVu Sans, sans-serif" font-weight="bold" font-size="4.0" fill="#ffffff">308</text>
<text x="1506.50" y="236.05" text-anchor="middle" font-family="DejaVu Sans, sans-serif" font-weight="bold" font-size="4.0" fill="#ffffff">5</text>
<text x="1491.50" y="246.55" text-anchor="middle" font-family="DejaVu Sans, sans-serif" font-weight="bold" font-size="4.0" fill="#ffffff">1179</text>
<text x="1506.50" y="246.55" text-anchor="middle" font-family="DejaVu Sans, sans-serif" font-weight="bold" font-size="4.0" fill="#ffffff">2293</text>
<text x="1491.50" y="257.05" text-anchor="middle" font-family="DejaVu Sans, sans-serif" font-weight="bold" font-size="4.0" fill="#ffffff">97</text>
<text x="1506.50" y="257.05" text-anchor="middle" font-family="DejaVu Sans, sans-serif" font-weight="bold" font-size="4.0" fill="#ffffff">1603</text>
<text x="1491.50" y="267.05" text-anchor="middle" font-family="DejaVu Sans, sans-serif" font-weight="bold" font-size="4.0" fill="#ffffff">33</text>
<text x="1506.50" y="267.05" text-anchor="middle" font-family="DejaVu Sans, sans-serif" font-weight="bold" font-size="4.0" fill="#ffffff">1099</text>
<text x="1491.50" y="277.05" text-anchor="middle" font-family="DejaVu Sans, sans-serif" font-weight="bold" font-size="4.0" fill="#ffffff">716</text>
<text x="1506.50" y="277.05" text-anchor="middle" font-family="DejaVu Sans, sans-serif" font-weight="bold" font-size="4.0" fill="#ffffff">971</text>
<text x="1491.50" y="287.05" text-anchor="middle" font-family="DejaVu Sans, sans-serif" font-weight="bold" font-size="4.0" fill="#ffffff">1063</text>
<text x="1506.50" y="287.05" text-anchor="middle" font-family="DejaVu Sans, sans-serif" font-weight="bold" font-size="4.0" fill="#ffffff">0</text>
<rect x="1484.50" y="230.00" width="29" height="10.00" fill="rgb(85,130,240)" fill-opacity="0.32"/>
<text x="1491.20" y="196.10" text-anchor="middle" font-family="DejaVu Sans, sans-serif" font-weight="bold" font-size="4.0" fill="#e8e8ee">2</text>
<text x="1499.00" y="196.10" text-anchor="middle" font-family="DejaVu Sans, sans-serif" font-weight="bold" font-size="4.0" fill="#5a5d75" stroke="#4e5168" stroke-width="0.5">:</text>
<text x="1506.70" y="196.10" text-anchor="middle" font-family="DejaVu Sans, sans-serif" font-weight="bold" font-size="4.0" fill="#e8e8ee">0</text>
<text x="1499.00" y="297.10" text-anchor="middle" font-family="DejaVu Sans, sans-serif" font-size="4.0" fill="#22822a">-2687</text>
<rect x="574.00" y="697.00" width="1330.00" height="40.00" fill="rgb(240,15,10)" fill-opacity="0.2"/>
<rect x="650.00" y="585.00" width="1254.00" height="30.00" fill="rgb(240,15,10)" fill-opacity="0.2"/>
<rect x="1332.00" y="362.00" width="572.00" height="41.00" fill="rgb(240,15,10)" fill-opacity="0.2"/>
<rect x="1408.00" y="311.00" width="496.00" height="31.00" fill="rgb(240,15,10)" fill-opacity="0.2"/>
<rect x="1885.40" y="191.00" width="7.80" height="8.00" fill="#e8473b"/>
<rect x="1893.20" y="191.00" width="10.80" height="8.00" fill="#2a9a2a"/>
<rect x="1875.40" y="201.00" width="9.60" height="8.00" fill="#b0352d"/>
<rect x="1885.00" y="201.00" width="19.00" height="8.00" fill="#1f6e1f"/>
<rect x="1871.30" y="211.00" width="20.60" height="8.00" fill="#b0352d"/>
<rect x="1891.90" y="211.00" width="12.10" height="8.00" fill="#1f6e1f"/>
<rect x="1852.10" y="221.00" width="11.50" height="8.00" fill="#b0352d"/>
<rect x="1863.60" y="221.00" width="40.40" height="8.00" fill="#1f6e1f"/>
<rect x="1842.80" y="231.00" width="34.90" height="8.00" fill="#b0352d"/>
<rect x="1877.70" y="231.00" width="26.30" height="8.00" fill="#1f6e1f"/>
<rect x="1835.50" y="241.00" width="30.00" height="9.00" fill="#b0352d"/>
<rect x="1865.50" y="241.00" width="38.50" height="9.00" fill="#1f6e1f"/>
<rect x="1857.00" y="252.00" width="39.00" height="8.00" fill="#b0352d"/>
<rect x="1896.00" y="252.00" width="8.00" height="8.00" fill="#1f6e1f"/>
<rect x="1878.00" y="262.00" width="14.30" height="8.00" fill="#b0352d"/>
<rect x="1892.30" y="262.00" width="11.70" height="8.00" fill="#1f6e1f"/>
<rect x="1883.60" y="272.00" width="9.10" height="8.00" fill="#b0352d"/>
<rect x="1892.70" y="272.00" width="11.30" height="8.00" fill="#1f6e1f"/>
<rect x="1846.10" y="282.00" width="20.20" height="8.00" fill="#b0352d"/>
<rect x="1866.30" y="282.00" width="37.70" height="8.00" fill="#1f6e1f"/>
<rect x="1838.00" y="292.00" width="32.10" height="8.00" fill="#b0352d"/>
<rect x="1870.10" y="292.00" width="33.90" height="8.00" fill="#1f6e1f"/>
<rect x="1859.00" y="302.00" width="27.10" height="8.00" fill="#b0352d"/>
<rect x="1886.10" y="302.00" width="17.90" height="8.00" fill="#1f6e1f"/>
<rect x="1860.10" y="312.00" width="24.20" height="9.00" fill="#b0352d"/>
<rect x="1884.30" y="312.00" width="19.70" height="9.00" fill="#1f6e1f"/>
<rect x="1879.30" y="323.00" width="7.90" height="8.00" fill="#b0352d"/>
<rect x="1887.20" y="323.00" width="16.80" height="8.00" fill="#1f6e1f"/>
<rect x="1849.20" y="333.00" width="0.80" height="8.00" fill="#b0352d"/>
<rect x="1850.00" y="333.00" width="54.00" height="8.00" fill="#1f6e1f"/>
<rect x="1814.20" y="343.00" width="30.00" height="8.00" fill="#b0352d"/>
<rect x="1844.20" y="343.00" width="59.80" height="8.00" fill="#1f6e1f"/>
<rect x="1758.10" y="353.00" width="64.90" height="8.00" fill="#b0352d"/>
<rect x="1823.00" y="353.00" width="81.00" height="8.00" fill="#1f6e1f"/>
<rect x="1761.80" y="363.00" width="79.30" height="8.00" fill="#b0352d"/>
<rect x="1841.10" y="363.00" width="62.90" height="8.00" fill="#1f6e1f"/>
<rect x="1740.10" y="373.00" width="70.00" height="8.00" fill="#b0352d"/>
<rect x="1810.10" y="373.00" width="93.90" height="8.00" fill="#1f6e1f"/>
<rect x="1723.90" y="383.00" width="81.80" height="9.00" fill="#e8473b"/>
<rect x="1805.70" y="383.00" width="98.30" height="9.00" fill="#2a9a2a"/>
<rect x="1766.20" y="394.00" width="86.80" height="8.00" fill="#b0352d"/>
<rect x="1853.00" y="394.00" width="51.00" height="8.00" fill="#1f6e1f"/>
<rect x="1820.50" y="404.00" width="44.50" height="8.00" fill="#b0352d"/>
<rect x="1865.00" y="404.00" width="39.00" height="8.00" fill="#1f6e1f"/>
<rect x="1823.10" y="414.00" width="42.80" height="8.00" fill="#b0352d"/>
<rect x="1865.90" y="414.00" width="38.10" height="8.00" fill="#1f6e1f"/>
<rect x="1822.00" y="424.00" width="44.10" height="8.00" fill="#b0352d"/>
<rect x="1866.10" y="424.00" width="37.90" height="8.00" fill="#1f6e1f"/>
<rect x="1794.00" y="434.00" width="48.40" height="8.00" fill="#b0352d"/>
<rect x="1842.40" y="434.00" width="61.60" height="8.00" fill="#1f6e1f"/>
<rect x="1823.40" y="444.00" width="51.00" height="8.00" fill="#b0352d"/>
<rect x="1874.40" y="444.00" width="29.60" height="8.00" fill="#1f6e1f"/>
<rect x="1846.80" y="454.00" width="35.30" height="8.00" fill="#b0352d"/>
<rect x="1882.10" y="454.00" width="21.90" height="8.00" fill="#1f6e1f"/>
<rect x="1850.10" y="464.00" width="23.10" height="9.00" fill="#b0352d"/>
<rect x="1873.20" y="464.00" width="30.80" height="9.00" fill="#1f6e1f"/>
<rect x="1848.00" y="475.00" width="25.00" height="8.00" fill="#b0352d"/>
<rect x="1873.00" y="475.00" width="31.00" height="8.00" fill="#1f6e1f"/>
<rect x="1861.10" y="485.00" width="25.00" height="8.00" fill="#b0352d"/>
<rect x="1886.10" y="485.00" width="17.90" height="8.00" fill="#1f6e1f"/>
<rect x="1861.10" y="495.00" width="21.80" height="8.00" fill="#b0352d"/>
<rect x="1882.90" y="495.00" width="21.10" height="8.00" fill="#1f6e1f"/>
<rect x="1852.10" y="505.00" width="30.00" height="8.00" fill="#b0352d"/>
<rect x="1882.10" y="505.00" width="21.90" height="8.00" fill="#1f6e1f"/>
<rect x="1846.80" y="515.00" width="33.00" height="8.00" fill="#b0352d"/>
<rect x="1879.80" y="515.00" width="24.20" height="8.00" fill="#1f6e1f"/>
<rect x="1821.20" y="525.00" width="38.90" height="8.00" fill="#b0352d"/>
<rect x="1860.10" y="525.00" width="43.90" height="8.00" fill="#1f6e1f"/>
<rect x="1856.10" y="535.00" width="38.30" height="9.00" fill="#b0352d"/>
<rect x="1894.40" y="535.00" width="9.60" height="9.00" fill="#1f6e1f"/>
<rect x="1873.20" y="546.00" width="13.50" height="8.00" fill="#b0352d"/>
<rect x="1886.70" y="546.00" width="17.30" height="8.00" fill="#1f6e1f"/>
<rect x="1852.70" y="556.00" width="18.40" height="8.00" fill="#b0352d"/>
<rect x="1871.10" y="556.00" width="32.90" height="8.00" fill="#1f6e1f"/>
<rect x="1876.10" y="566.00" width="15.90" height="8.00" fill="#b0352d"/>
<rect x="1892.00" y="566.00" width="12.00" height="8.00" fill="#1f6e1f"/>
<rect x="1889.80" y="576.00" width="5.40" height="8.00" fill="#b0352d"/>
<rect x="1895.20" y="576.00" width="8.80" height="8.00" fill="#1f6e1f"/>
<rect x="1879.80" y="586.00" width="3.10" height="8.00" fill="#b0352d"/>
<rect x="1882.90" y="586.00" width="21.10" height="8.00" fill="#1f6e1f"/>
<rect x="1884.60" y="596.00" width="4.30" height="8.00" fill="#e8473b"/>
<rect x="1888.90" y="596.00" width="15.10" height="8.00" fill="#2a9a2a"/>
<rect x="1870.10" y="606.00" width="8.80" height="8.00" fill="rgb(178,53,48)" fill-opacity="0.51"/>
<rect x="1878.90" y="606.00" width="25.10" height="8.00" fill="rgb(100,120,22)" fill-opacity="0.51"/>
<rect x="1834.00" y="616.00" width="24.00" height="9.00" fill="rgb(178,53,48)" fill-opacity="0.51"/>
<rect x="1858.00" y="616.00" width="46.00" height="9.00" fill="rgb(100,120,22)" fill-opacity="0.51"/>
<rect x="1805.80" y="627.00" width="59.00" height="8.00" fill="rgb(178,53,48)" fill-opacity="0.51"/>
<rect x="1864.80" y="627.00" width="39.20" height="8.00" fill="rgb(100,120,22)" fill-opacity="0.51"/>
<rect x="1855.90" y="637.00" width="32.00" height="8.00" fill="rgb(178,53,48)" fill-opacity="0.51"/>
<rect x="1887.90" y="637.00" width="16.10" height="8.00" fill="rgb(100,120,22)" fill-opacity="0.51"/>
<rect x="1888.50" y="647.00" width="8.40" height="8.00" fill="rgb(178,53,48)" fill-opacity="0.51"/>
<rect x="1896.90" y="647.00" width="7.10" height="8.00" fill="rgb(100,120,22)" fill-opacity="0.51"/>
<rect x="1892.30" y="657.00" width="8.70" height="8.00" fill="rgb(178,53,48)" fill-opacity="0.51"/>
<rect x="1901.00" y="657.00" width="3.00" height="8.00" fill="rgb(100,120,22)" fill-opacity="0.51"/>
<rect x="1863.60" y="667.00" width="3.40" height="8.00" fill="rgb(178,53,48)" fill-opacity="0.51"/>
<rect x="1867.00" y="667.00" width="37.00" height="8.00" fill="rgb(100,120,22)" fill-opacity="0.51"/>
<rect x="1862.10" y="677.00" width="17.70" height="8.00" fill="rgb(178,53,48)" fill-opacity="0.51"/>
<rect x="1879.80" y="677.00" width="24.20" height="8.00" fill="rgb(100,120,22)" fill-opacity="0.51"/>
<rect x="1845.30" y="687.00" width="20.80" height="9.00" fill="rgb(178,53,48)" fill-opacity="0.51"/>
<rect x="1866.10" y="687.00" width="37.90" height="9.00" fill="rgb(100,120,22)" fill-opacity="0.51"/>
<rect x="1811.80" y="698.00" width="41.20" height="8.00" fill="rgb(178,53,48)" fill-opacity="0.51"/>
<rect x="1853.00" y="698.00" width="51.00" height="8.00" fill="rgb(100,120,22)" fill-opacity="0.51"/>
<rect x="1839.30" y="708.00" width="38.60" height="8.00" fill="rgb(178,53,48)" fill-opacity="0.51"/>
<rect x="1877.90" y="708.00" width="26.10" height="8.00" fill="rgb(100,120,22)" fill-opacity="0.51"/>
<rect x="1834.90" y="718.00" width="37.40" height="8.00" fill="rgb(178,53,48)" fill-opacity="0.51"/>
<rect x="1872.30" y="718.00" width="31.70" height="8.00" fill="rgb(100,120,22)" fill-opacity="0.51"/>
<rect x="1834.00" y="728.00" width="38.00" height="8.00" fill="rgb(178,53,48)" fill-opacity="0.51"/>
<rect x="1872.00" y="728.00" width="32.00" height="8.00" fill="rgb(100,120,22)" fill-opacity="0.51"/>
<rect x="1852.70" y="738.00" width="26.10" height="8.00" fill="rgb(178,53,48)" fill-opacity="0.51"/>
<rect x="1878.80" y="738.00" width="25.20" height="8.00" fill="rgb(100,120,22)" fill-opacity="0.51"/>
<rect x="1815.20" y="748.00" width="32.80" height="8.00" fill="rgb(178,53,48)" fill-opacity="0.51"/>
<rect x="1848.00" y="748.00" width="56.00" height="8.00" fill="rgb(100,120,22)" fill-opacity="0.51"/>
<rect x="1804.60" y="758.00" width="56.20" height="9.00" fill="rgb(178,53,48)" fill-opacity="0.51"/>
<rect x="1860.80" y="758.00" width="43.20" height="9.00" fill="rgb(100,120,22)" fill-opacity="0.51"/>
<rect x="1852.70" y="769.00" width="30.60" height="8.00" fill="rgb(178,53,48)" fill-opacity="0.51"/>
<rect x="1883.30" y="769.00" width="20.70" height="8.00" fill="rgb(100,120,22)" fill-opacity="0.51"/>
<rect x="1868.20" y="779.00" width="17.90" height="8.00" fill="rgb(178,53,48)" fill-opacity="0.51"/>
<rect x="1886.10" y="779.00" width="17.90" height="8.00" fill="rgb(100,120,22)" fill-opacity="0.51"/>
<rect x="1867.30" y="789.00" width="21.60" height="8.00" fill="rgb(178,53,48)" fill-opacity="0.51"/>
<rect x="1888.90" y="789.00" width="15.10" height="8.00" fill="rgb(100,120,22)" fill-opacity="0.51"/>
<rect x="1889.80" y="799.00" width="9.60" height="8.00" fill="rgb(178,53,48)" fill-opacity="0.51"/>
<rect x="1899.40" y="799.00" width="4.60" height="8.00" fill="rgb(100,120,22)" fill-opacity="0.51"/>
<rect x="1902.30" y="809.00" width="1.70" height="8.00" fill="rgb(178,53,48)" fill-opacity="0.51"/>
<rect x="1904.00" y="809.00" width="0.00" height="8.00" fill="rgb(100,120,22)" fill-opacity="0.51"/>
<rect x="1885.40" y="191.00" width="7.80" height="8.00" fill="#4a6cc8"/>
<text x="1889.30" y="196.20" text-anchor="middle" font-family="DejaVu Sans, sans-serif" font-weight="bold" font-size="3.4" fill="#ffffff">VAH</text>
<rect x="1715.80" y="383.00" width="8.10" height="9.00" fill="#c8a050"/>
<text x="1719.85" y="388.70" text-anchor="middle" font-family="DejaVu Sans, sans-serif" font-weight="bold" font-size="3.4" fill="#ffffff">POC</text>
<rect x="1877.10" y="596.00" width="7.50" height="8.00" fill="#c050c0"/>
<text x="1880.85" y="601.20" text-anchor="middle" font-family="DejaVu Sans, sans-serif" font-weight="bold" font-size="3.4" fill="#ffffff">VAL</text>
</g>
<rect x="1702.5" y="110.5" width="16" height="17" fill="#1b1e38" stroke="#3a3e5a" stroke-width="1"/>
<rect x="1702.5" y="127.5" width="16" height="16.5" fill="#1b1e38" stroke="#3a3e5a" stroke-width="1"/>
<path d="M1709.2 115.2 L1712.6 118.8 L1709.2 122.5" fill="none" stroke="#c8c8d4" stroke-width="1.1"/>
<text x="1710.5" y="140.2" text-anchor="middle" font-family="Liberation Sans, sans-serif" font-size="10" fill="#c8c8d4">?</text>
<rect x="8" y="908" width="1896" height="1" fill="#32364f"/>
<rect x="8" y="931" width="1896" height="1.3" fill="#2e3250"/>
<rect x="956" y="908" width="1" height="23" fill="#32364f"/>
<circle cx="287.00" cy="897.4" r="7.8" fill="url(#gg)"/>
<path d="M283.30 894.90 L290.70 894.90 L287.00 901.10 Z" fill="#2aa02a"/>
<circle cx="477.00" cy="897.4" r="7.8" fill="url(#rg)"/>
<path d="M473.30 899.90 L480.70 899.90 L477.00 893.70 Z" fill="#ee4a3c"/>
<circle cx="590.00" cy="897.4" r="7.8" fill="url(#rg)"/>
<path d="M592.70 894.60 L589.40 900.00 A2.2 2.2 0 1 1 587.40 897.60 Z" fill="#ee4a3c"/>
<circle cx="588.30" cy="899.10" r="0.7" fill="#3a1a28"/>
<circle cx="666.00" cy="897.4" r="7.8" fill="url(#rg)"/>
<path d="M668.70 894.60 L665.40 900.00 A2.2 2.2 0 1 1 663.40 897.60 Z" fill="#ee4a3c"/>
<circle cx="664.30" cy="899.10" r="0.7" fill="#3a1a28"/>
<circle cx="931.00" cy="897.4" r="7.8" fill="url(#rg)"/>
<path d="M931.00 897.80 L935.20 900.00 L931.00 902.20 L926.80 900.00 Z" fill="#f04c3c"/>
<path d="M927.20 895.40 L931.00 893.40 L934.80 895.40 L931.00 897.40 Z M927.20 897.60 L931.00 895.60 L934.80 897.60" fill="none" stroke="#dc4438" stroke-width="1" stroke-dasharray="1 0.9"/>
<circle cx="969.00" cy="897.4" r="7.8" fill="url(#gg)"/>
<path d="M967.60 893.70 h2.8 v4.1 h2.4 L969.00 902.10 L965.20 897.80 h2.4 Z" fill="#2aa02a"/>
<circle cx="1045.00" cy="897.4" r="7.8" fill="url(#gg)"/>
<path d="M1041.30 894.90 L1048.70 894.90 L1045.00 901.10 Z" fill="#2aa02a"/>
<circle cx="1158.00" cy="897.4" r="7.8" fill="url(#gg)"/>
<path d="M1154.30 894.90 L1161.70 894.90 L1158.00 901.10 Z" fill="#2aa02a"/>
<circle cx="1309.50" cy="897.4" r="7.8" fill="url(#gg)"/>
<path d="M1305.80 894.90 L1313.20 894.90 L1309.50 901.10 Z" fill="#2aa02a"/>
<circle cx="1347.00" cy="897.4" r="7.8" fill="url(#rg)"/>
<path d="M1347.00 897.80 L1351.20 900.00 L1347.00 902.20 L1342.80 900.00 Z" fill="#f04c3c"/>
<path d="M1343.20 895.40 L1347.00 893.40 L1350.80 895.40 L1347.00 897.40 Z M1343.20 897.60 L1347.00 895.60 L1350.80 897.60" fill="none" stroke="#dc4438" stroke-width="1" stroke-dasharray="1 0.9"/>
<circle cx="1423.00" cy="897.4" r="7.8" fill="url(#rg)"/>
<path d="M1419.30 899.90 L1426.70 899.90 L1423.00 893.70 Z" fill="#ee4a3c"/>
<text x="482" y="924" text-anchor="middle" font-family="Liberation Sans, Noto Sans CJK SC, sans-serif" font-weight="500" font-size="13" fill="#4a72d8">信号点</text>
<text x="1430.3" y="924.6" text-anchor="middle" font-family="Liberation Sans, sans-serif" font-size="13" fill="#aeb1c2">Cum Delta</text>
<text x="55.10" y="946.2" text-anchor="middle" font-family="Liberation Sans, sans-serif" font-size="12.5" fill="#4a4d64" stroke="#4a4d64" stroke-width="0.3">02-27 22:05</text>
<text x="169.00" y="946.2" text-anchor="middle" font-family="Liberation Sans, sans-serif" font-size="12.5" fill="#4a4d64" stroke="#4a4d64" stroke-width="0.3">02-27 22:20</text>
<text x="282.50" y="946.2" text-anchor="middle" font-family="Liberation Sans, sans-serif" font-size="12.5" fill="#4a4d64" stroke="#4a4d64" stroke-width="0.3">02-27 22:35</text>
<text x="396.00" y="946.2" text-anchor="middle" font-family="Liberation Sans, sans-serif" font-size="12.5" fill="#4a4d64" stroke="#4a4d64" stroke-width="0.3">02-27 22:50</text>
<text x="512.60" y="946.2" text-anchor="middle" font-family="Liberation Sans, sans-serif" font-size="12.5" fill="#4a4d64" stroke="#4a4d64" stroke-width="0.3">09:05</text>
<text x="626.10" y="946.2" text-anchor="middle" font-family="Liberation Sans, sans-serif" font-size="12.5" fill="#4a4d64" stroke="#4a4d64" stroke-width="0.3">09:20</text>
<text x="739.50" y="946.2" text-anchor="middle" font-family="Liberation Sans, sans-serif" font-size="12.5" fill="#4a4d64" stroke="#4a4d64" stroke-width="0.3">09:35</text>
<text x="853.00" y="946.2" text-anchor="middle" font-family="Liberation Sans, sans-serif" font-size="12.5" fill="#4a4d64" stroke="#4a4d64" stroke-width="0.3">09:50</text>
<text x="966.70" y="946.2" text-anchor="middle" font-family="Liberation Sans, sans-serif" font-size="12.5" fill="#4a4d64" stroke="#4a4d64" stroke-width="0.3">10:05</text>
<text x="1081.30" y="946.2" text-anchor="middle" font-family="Liberation Sans, sans-serif" font-size="12.5" fill="#4a4d64" stroke="#4a4d64" stroke-width="0.3">10:35</text>
<text x="1194.40" y="946.2" text-anchor="middle" font-family="Liberation Sans, sans-serif" font-size="12.5" fill="#4a4d64" stroke="#4a4d64" stroke-width="0.3">10:50</text>
<text x="1308.00" y="946.2" text-anchor="middle" font-family="Liberation Sans, sans-serif" font-size="12.5" fill="#4a4d64" stroke="#4a4d64" stroke-width="0.3">11:05</text>
<text x="1422.00" y="946.2" text-anchor="middle" font-family="Liberation Sans, sans-serif" font-size="12.5" fill="#4a4d64" stroke="#4a4d64" stroke-width="0.3">11:20</text>
</svg>
<div class="abs title">实时订单流</div>
<div class="abs help">?</div>
<div class="abs tab" style="left:147px">1分</div>
<div class="abs tab on" style="left:184px">5分</div>
<div class="abs uline"></div>
<div class="abs tab" style="left:225px">15分</div>
<div class="abs tab" style="left:270px">30分</div>
<div class="abs tab" style="left:316px">1小时</div>
<div class="abs tab" style="left:368px">日</div>
<svg class="abs" style="left:1876px;top:14px" width="16" height="16" viewBox="0 0 16 16">
 <path d="M1.5 13.7 L6.6 8.6 M3.0 8.6 H6.6 V12.2" fill="none" stroke="#9a9db0" stroke-width="1.1"/>
 <path d="M13.8 1.2 L8.5 6.5 M8.5 2.8 V6.5 H12.2" fill="none" stroke="#9a9db0" stroke-width="1.1"/>
</svg>
<div class="abs sep"></div>
<div class="abs sym"></div>
<div class="abs symname">烧碱2505</div>
<div class="abs px" style="left:1014px">2854.00</div>
<div class="abs px" style="left:1070px">+1.93%</div>
<svg class="abs" style="left:1116px;top:61px" width="14" height="10" viewBox="0 0 14 10">
 <path d="M1 2 L7 8 L13 2" fill="none" stroke="#a4a7ba" stroke-width="1"/>
</svg>
<div class="abs cfg" style="left:1758px">参数设置</div>
<div class="abs" style="left:1814px;top:92px;width:1px;height:10px;background:#474b66;"></div>
<div class="abs cfg" style="left:1821.5px">自定义量价</div>
<svg class="abs" style="left:1886px;top:91px" width="12" height="12" viewBox="0 0 12 12">
 <path d="M6 0.8 L10.5 3.4 L10.5 8.6 L6 11.2 L1.5 8.6 L1.5 3.4 Z" fill="none" stroke="#c8c9d4" stroke-width="1.1"/>
 <circle cx="6" cy="6" r="1.3" fill="#c8c9d4"/>
</svg>
</div>
</body></html>
